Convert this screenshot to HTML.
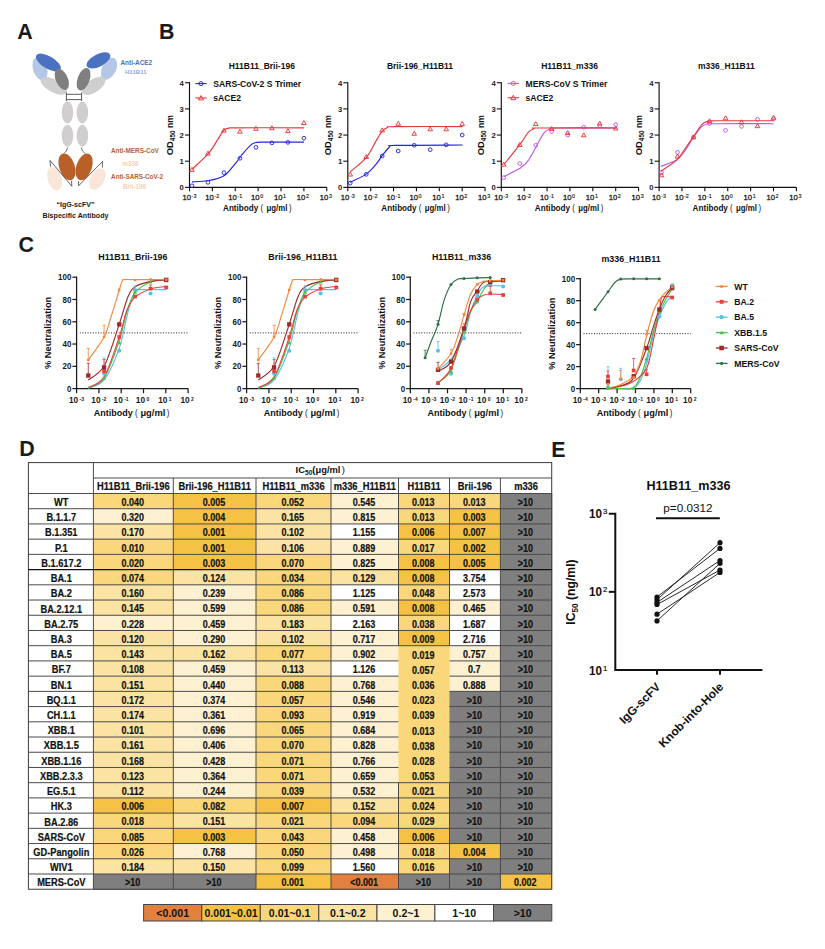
<!DOCTYPE html>
<html><head><meta charset="utf-8"><style>
html,body{margin:0;padding:0;background:#fff;width:825px;height:949px;overflow:hidden}
svg{display:block}
text{font-family:"Liberation Sans",sans-serif}
</style></head><body>
<svg width="825" height="949" viewBox="0 0 825 949">
<rect width="825" height="949" fill="#fff"/>
<text x="17.30" y="39.30" font-size="21.4" font-weight="bold" text-anchor="start" fill="#1a1a1a" >A</text>
<text x="159.00" y="39.30" font-size="21.4" font-weight="bold" text-anchor="start" fill="#1a1a1a" >B</text>
<text x="18.50" y="252.40" font-size="21.4" font-weight="bold" text-anchor="start" fill="#1a1a1a" >C</text>
<text x="19.20" y="456.40" font-size="21.4" font-weight="bold" text-anchor="start" fill="#1a1a1a" >D</text>
<text x="551.20" y="456.60" font-size="21.4" font-weight="bold" text-anchor="start" fill="#1a1a1a" >E</text>
<ellipse cx="40" cy="68.7" rx="7" ry="11.8" fill="#B4C7E7" transform="rotate(-18 40 68.7)"/>
<ellipse cx="48.4" cy="62.5" rx="14" ry="6.2" fill="#4A72C0" transform="rotate(31 48.4 62.5)"/>
<ellipse cx="109" cy="68.7" rx="7" ry="11.7" fill="#B4C7E7" transform="rotate(26 109 68.7)"/>
<ellipse cx="98.5" cy="60.4" rx="13" ry="6.2" fill="#4A72C0" transform="rotate(-27.5 98.5 60.4)"/>
<ellipse cx="53.8" cy="85.8" rx="14.5" ry="6.5" fill="#D0CECE" transform="rotate(28 53.8 85.8)"/>
<ellipse cx="93.8" cy="85.8" rx="13.5" ry="6.5" fill="#D0CECE" transform="rotate(-34 93.8 85.8)"/>
<ellipse cx="61.8" cy="79.3" rx="6" ry="11.3" fill="#7F7F7F" transform="rotate(-24 61.8 79.3)"/>
<ellipse cx="83.6" cy="79.3" rx="6" ry="11.7" fill="#7F7F7F" transform="rotate(20 83.6 79.3)"/>
<path d="M66.4 92.5 V101 M81.6 92.5 V101 M66.4 94.3 H81.6 M66.4 99.6 H81.6" stroke="#333" stroke-width="0.8" fill="none"/>
<ellipse cx="67.5" cy="112.5" rx="5.8" ry="10.9" fill="#D0CECE" transform="rotate(0 67.5 112.5)"/>
<ellipse cx="82.4" cy="112.5" rx="5.8" ry="10.9" fill="#D0CECE" transform="rotate(0 82.4 112.5)"/>
<ellipse cx="67.5" cy="135.8" rx="5.8" ry="11" fill="#D0CECE" transform="rotate(0 67.5 135.8)"/>
<ellipse cx="82.4" cy="135.8" rx="5.8" ry="11" fill="#D0CECE" transform="rotate(0 82.4 135.8)"/>
<path d="M67.6 147.5 Q67 151.5 63.8 153.6 M81.2 147.5 Q81.8 151.5 85.4 153.6" stroke="#333" stroke-width="0.7" fill="none"/>
<ellipse cx="54.6" cy="178.6" rx="7" ry="12" fill="#FAE6D8" transform="rotate(-17 54.6 178.6)"/>
<ellipse cx="97.3" cy="179" rx="7" ry="11.6" fill="#FAE6D8" transform="rotate(28 97.3 179)"/>
<ellipse cx="67" cy="166.8" rx="7.8" ry="13.9" fill="#B95F28" transform="rotate(-18.7 67 166.8)"/>
<ellipse cx="84.1" cy="166.8" rx="7.8" ry="13.9" fill="#B95F28" transform="rotate(18.7 84.1 166.8)"/>
<path d="M71.6 180.7 L71.8 186.2 L50 160.4 L50.6 166.7 M78.6 181.2 L78.6 185.8 L102.4 161.6 L102.4 167.6" stroke="#333" stroke-width="0.75" fill="none" stroke-linejoin="round"/>
<text x="136.30" y="64.80" font-size="6.4" font-weight="bold" text-anchor="middle" fill="#4A72C0" >Anti-ACE2</text>
<text x="135.80" y="74.30" font-size="6.1" font-weight="bold" text-anchor="middle" fill="#8DA8DA" >H11B11</text>
<text x="134.90" y="152.60" font-size="6.4" font-weight="bold" text-anchor="middle" fill="#B8622C" >Anti-MERS-CoV</text>
<text x="130.50" y="166.30" font-size="6.4" font-weight="bold" text-anchor="middle" fill="#F5CFB5" >m336</text>
<text x="137.00" y="178.50" font-size="6.3" font-weight="bold" text-anchor="middle" fill="#B8622C" >Anti-SARS-CoV-2</text>
<text x="134.50" y="189.00" font-size="6.3" font-weight="bold" text-anchor="middle" fill="#F5CFB5" >Brii-196</text>
<text x="75.50" y="207.00" font-size="7.1" font-weight="bold" text-anchor="middle" fill="#1a1a1a" >“IgG-scFV”</text>
<text x="75.50" y="217.60" font-size="7.1" font-weight="bold" text-anchor="middle" fill="#1a1a1a" >Bispecific Antibody</text>
<path d="M189.5 82.15 V187.35 H326.78" stroke="#111" stroke-width="1.15" fill="none"/>
<line x1="185.00" y1="187.35" x2="189.50" y2="187.35" stroke="#111" stroke-width="1.1" />
<text x="183.90" y="190.10" font-size="7.7" font-weight="bold" text-anchor="end" fill="#222" >0</text>
<line x1="185.00" y1="161.20" x2="189.50" y2="161.20" stroke="#111" stroke-width="1.1" />
<text x="183.90" y="163.95" font-size="7.7" font-weight="bold" text-anchor="end" fill="#222" >1</text>
<line x1="185.00" y1="135.05" x2="189.50" y2="135.05" stroke="#111" stroke-width="1.1" />
<text x="183.90" y="137.80" font-size="7.7" font-weight="bold" text-anchor="end" fill="#222" >2</text>
<line x1="185.00" y1="108.90" x2="189.50" y2="108.90" stroke="#111" stroke-width="1.1" />
<text x="183.90" y="111.65" font-size="7.7" font-weight="bold" text-anchor="end" fill="#222" >3</text>
<line x1="185.00" y1="82.75" x2="189.50" y2="82.75" stroke="#111" stroke-width="1.1" />
<text x="183.90" y="85.50" font-size="7.7" font-weight="bold" text-anchor="end" fill="#222" >4</text>
<line x1="189.50" y1="187.35" x2="189.50" y2="191.35" stroke="#111" stroke-width="1.1" />
<text x="191.00" y="200.30" font-size="7.7" font-weight="normal" stroke="#222" stroke-width="0.3" text-anchor="end" fill="#222">10</text>
<text x="191.60" y="197.80" font-size="5.4" font-weight="normal" stroke="#222" stroke-width="0.15" fill="#222">-3</text>
<line x1="212.38" y1="187.35" x2="212.38" y2="191.35" stroke="#111" stroke-width="1.1" />
<text x="213.88" y="200.30" font-size="7.7" font-weight="normal" stroke="#222" stroke-width="0.3" text-anchor="end" fill="#222">10</text>
<text x="214.48" y="197.80" font-size="5.4" font-weight="normal" stroke="#222" stroke-width="0.15" fill="#222">-2</text>
<line x1="235.26" y1="187.35" x2="235.26" y2="191.35" stroke="#111" stroke-width="1.1" />
<text x="236.76" y="200.30" font-size="7.7" font-weight="normal" stroke="#222" stroke-width="0.3" text-anchor="end" fill="#222">10</text>
<text x="237.36" y="197.80" font-size="5.4" font-weight="normal" stroke="#222" stroke-width="0.15" fill="#222">-1</text>
<line x1="258.14" y1="187.35" x2="258.14" y2="191.35" stroke="#111" stroke-width="1.1" />
<text x="259.64" y="200.30" font-size="7.7" font-weight="normal" stroke="#222" stroke-width="0.3" text-anchor="end" fill="#222">10</text>
<text x="260.24" y="197.80" font-size="5.4" font-weight="normal" stroke="#222" stroke-width="0.15" fill="#222">0</text>
<line x1="281.02" y1="187.35" x2="281.02" y2="191.35" stroke="#111" stroke-width="1.1" />
<text x="282.52" y="200.30" font-size="7.7" font-weight="normal" stroke="#222" stroke-width="0.3" text-anchor="end" fill="#222">10</text>
<text x="283.12" y="197.80" font-size="5.4" font-weight="normal" stroke="#222" stroke-width="0.15" fill="#222">1</text>
<line x1="303.90" y1="187.35" x2="303.90" y2="191.35" stroke="#111" stroke-width="1.1" />
<text x="305.40" y="200.30" font-size="7.7" font-weight="normal" stroke="#222" stroke-width="0.3" text-anchor="end" fill="#222">10</text>
<text x="306.00" y="197.80" font-size="5.4" font-weight="normal" stroke="#222" stroke-width="0.15" fill="#222">2</text>
<line x1="326.78" y1="187.35" x2="326.78" y2="191.35" stroke="#111" stroke-width="1.1" />
<text x="328.28" y="200.30" font-size="7.7" font-weight="normal" stroke="#222" stroke-width="0.3" text-anchor="end" fill="#222">10</text>
<text x="328.88" y="197.80" font-size="5.4" font-weight="normal" stroke="#222" stroke-width="0.15" fill="#222">3</text>
<text x="261.80" y="68.50" font-size="8.5" font-weight="bold" text-anchor="middle" fill="#111" >H11B11_Brii-196</text>
<text x="223.00" y="211.40" font-size="8.3" font-weight="bold" fill="#111" textLength="35.30" lengthAdjust="spacingAndGlyphs">Antibody</text>
<text x="260.50" y="210.80" font-size="8.134" font-weight="normal" fill="#111" textLength="2.60" lengthAdjust="spacingAndGlyphs">(</text>
<text x="266.50" y="211.40" font-size="8.3" font-weight="bold" fill="#111" textLength="20.80" lengthAdjust="spacingAndGlyphs">μg/ml</text>
<text x="288.90" y="210.80" font-size="8.134" font-weight="normal" fill="#111" textLength="2.60" lengthAdjust="spacingAndGlyphs">)</text>
<text transform="translate(172.50 135.2) rotate(-90)" font-size="9.4" font-weight="bold" text-anchor="middle" fill="#111">OD<tspan font-size="6.4" dy="2.1">450</tspan><tspan dy="-2.1" font-size="8.6"> nm</tspan></text>
<path d="M192.00 181.91 C194.75 181.68 203.15 181.59 208.49 180.55 C213.82 179.52 219.48 178.61 224.00 175.70 C228.53 172.79 232.73 166.49 235.64 163.10 C238.55 159.70 238.87 158.41 241.46 155.34 C244.04 152.27 248.57 146.84 251.16 144.67 C253.74 142.50 254.07 142.76 256.97 142.34 C259.88 141.92 260.76 142.18 268.61 142.15 C276.47 142.12 298.19 142.15 304.10 142.15" stroke="#2424EC" stroke-width="1.15" fill="none"/>
<circle cx="303.90" cy="138.19" r="1.85" fill="none" stroke="#2424EC" stroke-width="0.95"/>
<circle cx="287.91" cy="142.37" r="1.85" fill="none" stroke="#2424EC" stroke-width="0.95"/>
<circle cx="271.91" cy="142.89" r="1.85" fill="none" stroke="#2424EC" stroke-width="0.95"/>
<circle cx="255.92" cy="147.34" r="1.85" fill="none" stroke="#2424EC" stroke-width="0.95"/>
<circle cx="239.93" cy="158.32" r="1.85" fill="none" stroke="#2424EC" stroke-width="0.95"/>
<circle cx="223.93" cy="172.71" r="1.85" fill="none" stroke="#2424EC" stroke-width="0.95"/>
<circle cx="207.94" cy="182.38" r="1.85" fill="none" stroke="#2424EC" stroke-width="0.95"/>
<circle cx="191.95" cy="185.78" r="1.85" fill="none" stroke="#2424EC" stroke-width="0.95"/>
<path d="M192.00 169.30 C194.75 166.65 204.12 158.47 208.49 153.40 C212.85 148.32 215.60 142.73 218.18 138.85 C220.77 134.97 222.23 131.90 224.00 130.12 C225.78 128.35 226.59 128.57 228.85 128.18 C231.11 127.80 225.04 127.86 237.58 127.80 C250.12 127.73 293.02 127.80 304.10 127.80" stroke="#E8383A" stroke-width="1.15" fill="none"/>
<path d="M303.90 120.56 L306.21 124.52 L301.59 124.52 Z" fill="none" stroke="#E8383A" stroke-width="0.95"/>
<path d="M287.91 128.67 L290.22 132.63 L285.60 132.63 Z" fill="none" stroke="#E8383A" stroke-width="0.95"/>
<path d="M271.91 125.79 L274.22 129.75 L269.60 129.75 Z" fill="none" stroke="#E8383A" stroke-width="0.95"/>
<path d="M255.92 126.31 L258.23 130.27 L253.61 130.27 Z" fill="none" stroke="#E8383A" stroke-width="0.95"/>
<path d="M239.93 129.19 L242.24 133.15 L237.62 133.15 Z" fill="none" stroke="#E8383A" stroke-width="0.95"/>
<path d="M223.93 128.14 L226.24 132.10 L221.62 132.10 Z" fill="none" stroke="#E8383A" stroke-width="0.95"/>
<path d="M207.94 151.16 L210.25 155.11 L205.63 155.11 Z" fill="none" stroke="#E8383A" stroke-width="0.95"/>
<path d="M191.95 167.37 L194.26 171.33 L189.64 171.33 Z" fill="none" stroke="#E8383A" stroke-width="0.95"/>
<path d="M347.8 82.15 V187.35 H485.08" stroke="#111" stroke-width="1.15" fill="none"/>
<line x1="343.30" y1="187.35" x2="347.80" y2="187.35" stroke="#111" stroke-width="1.1" />
<text x="342.20" y="190.10" font-size="7.7" font-weight="bold" text-anchor="end" fill="#222" >0</text>
<line x1="343.30" y1="161.20" x2="347.80" y2="161.20" stroke="#111" stroke-width="1.1" />
<text x="342.20" y="163.95" font-size="7.7" font-weight="bold" text-anchor="end" fill="#222" >1</text>
<line x1="343.30" y1="135.05" x2="347.80" y2="135.05" stroke="#111" stroke-width="1.1" />
<text x="342.20" y="137.80" font-size="7.7" font-weight="bold" text-anchor="end" fill="#222" >2</text>
<line x1="343.30" y1="108.90" x2="347.80" y2="108.90" stroke="#111" stroke-width="1.1" />
<text x="342.20" y="111.65" font-size="7.7" font-weight="bold" text-anchor="end" fill="#222" >3</text>
<line x1="343.30" y1="82.75" x2="347.80" y2="82.75" stroke="#111" stroke-width="1.1" />
<text x="342.20" y="85.50" font-size="7.7" font-weight="bold" text-anchor="end" fill="#222" >4</text>
<line x1="347.80" y1="187.35" x2="347.80" y2="191.35" stroke="#111" stroke-width="1.1" />
<text x="349.30" y="200.30" font-size="7.7" font-weight="normal" stroke="#222" stroke-width="0.3" text-anchor="end" fill="#222">10</text>
<text x="349.90" y="197.80" font-size="5.4" font-weight="normal" stroke="#222" stroke-width="0.15" fill="#222">-3</text>
<line x1="370.68" y1="187.35" x2="370.68" y2="191.35" stroke="#111" stroke-width="1.1" />
<text x="372.18" y="200.30" font-size="7.7" font-weight="normal" stroke="#222" stroke-width="0.3" text-anchor="end" fill="#222">10</text>
<text x="372.78" y="197.80" font-size="5.4" font-weight="normal" stroke="#222" stroke-width="0.15" fill="#222">-2</text>
<line x1="393.56" y1="187.35" x2="393.56" y2="191.35" stroke="#111" stroke-width="1.1" />
<text x="395.06" y="200.30" font-size="7.7" font-weight="normal" stroke="#222" stroke-width="0.3" text-anchor="end" fill="#222">10</text>
<text x="395.66" y="197.80" font-size="5.4" font-weight="normal" stroke="#222" stroke-width="0.15" fill="#222">-1</text>
<line x1="416.44" y1="187.35" x2="416.44" y2="191.35" stroke="#111" stroke-width="1.1" />
<text x="417.94" y="200.30" font-size="7.7" font-weight="normal" stroke="#222" stroke-width="0.3" text-anchor="end" fill="#222">10</text>
<text x="418.54" y="197.80" font-size="5.4" font-weight="normal" stroke="#222" stroke-width="0.15" fill="#222">0</text>
<line x1="439.32" y1="187.35" x2="439.32" y2="191.35" stroke="#111" stroke-width="1.1" />
<text x="440.82" y="200.30" font-size="7.7" font-weight="normal" stroke="#222" stroke-width="0.3" text-anchor="end" fill="#222">10</text>
<text x="441.42" y="197.80" font-size="5.4" font-weight="normal" stroke="#222" stroke-width="0.15" fill="#222">1</text>
<line x1="462.20" y1="187.35" x2="462.20" y2="191.35" stroke="#111" stroke-width="1.1" />
<text x="463.70" y="200.30" font-size="7.7" font-weight="normal" stroke="#222" stroke-width="0.3" text-anchor="end" fill="#222">10</text>
<text x="464.30" y="197.80" font-size="5.4" font-weight="normal" stroke="#222" stroke-width="0.15" fill="#222">2</text>
<line x1="485.08" y1="187.35" x2="485.08" y2="191.35" stroke="#111" stroke-width="1.1" />
<text x="486.58" y="200.30" font-size="7.7" font-weight="normal" stroke="#222" stroke-width="0.3" text-anchor="end" fill="#222">10</text>
<text x="487.18" y="197.80" font-size="5.4" font-weight="normal" stroke="#222" stroke-width="0.15" fill="#222">3</text>
<text x="420.00" y="68.50" font-size="8.5" font-weight="bold" text-anchor="middle" fill="#111" >Brii-196_H11B11</text>
<text x="381.30" y="211.40" font-size="8.3" font-weight="bold" fill="#111" textLength="35.30" lengthAdjust="spacingAndGlyphs">Antibody</text>
<text x="418.80" y="210.80" font-size="8.134" font-weight="normal" fill="#111" textLength="2.60" lengthAdjust="spacingAndGlyphs">(</text>
<text x="424.80" y="211.40" font-size="8.3" font-weight="bold" fill="#111" textLength="20.80" lengthAdjust="spacingAndGlyphs">μg/ml</text>
<text x="447.20" y="210.80" font-size="8.134" font-weight="normal" fill="#111" textLength="2.60" lengthAdjust="spacingAndGlyphs">)</text>
<text transform="translate(330.80 135.2) rotate(-90)" font-size="9.4" font-weight="bold" text-anchor="middle" fill="#111">OD<tspan font-size="6.4" dy="2.1">450</tspan><tspan dy="-2.1" font-size="8.6"> nm</tspan></text>
<path d="M350.15 182.27 C352.83 180.92 361.95 177.10 366.25 174.13 C370.54 171.15 373.29 167.50 375.94 164.43 C378.59 161.36 379.89 158.61 382.15 155.70 C384.41 152.79 387.32 148.69 389.52 146.97 C391.72 145.26 383.15 145.75 395.34 145.42 C407.52 145.10 451.42 145.10 462.64 145.03" stroke="#2424EC" stroke-width="1.15" fill="none"/>
<circle cx="462.20" cy="135.05" r="1.85" fill="none" stroke="#2424EC" stroke-width="0.95"/>
<circle cx="446.21" cy="144.86" r="1.85" fill="none" stroke="#2424EC" stroke-width="0.95"/>
<circle cx="430.21" cy="149.69" r="1.85" fill="none" stroke="#2424EC" stroke-width="0.95"/>
<circle cx="414.22" cy="145.25" r="1.85" fill="none" stroke="#2424EC" stroke-width="0.95"/>
<circle cx="398.23" cy="151.00" r="1.85" fill="none" stroke="#2424EC" stroke-width="0.95"/>
<circle cx="382.23" cy="155.97" r="1.85" fill="none" stroke="#2424EC" stroke-width="0.95"/>
<circle cx="366.24" cy="174.35" r="1.85" fill="none" stroke="#2424EC" stroke-width="0.95"/>
<circle cx="350.25" cy="183.09" r="1.85" fill="none" stroke="#2424EC" stroke-width="0.95"/>
<path d="M350.15 171.80 C352.83 169.44 361.95 162.75 366.25 157.64 C370.54 152.53 373.29 145.52 375.94 141.16 C378.59 136.79 380.21 133.72 382.15 131.46 C384.09 129.20 385.38 128.39 387.58 127.58 C389.78 126.77 382.83 126.77 395.34 126.61 C407.85 126.45 451.42 126.61 462.64 126.61" stroke="#E8383A" stroke-width="1.15" fill="none"/>
<path d="M462.20 121.61 L464.51 125.57 L459.89 125.57 Z" fill="none" stroke="#E8383A" stroke-width="0.95"/>
<path d="M446.21 126.84 L448.52 130.80 L443.90 130.80 Z" fill="none" stroke="#E8383A" stroke-width="0.95"/>
<path d="M430.21 126.84 L432.52 130.80 L427.90 130.80 Z" fill="none" stroke="#E8383A" stroke-width="0.95"/>
<path d="M414.22 131.28 L416.53 135.24 L411.91 135.24 Z" fill="none" stroke="#E8383A" stroke-width="0.95"/>
<path d="M398.23 121.34 L400.54 125.30 L395.92 125.30 Z" fill="none" stroke="#E8383A" stroke-width="0.95"/>
<path d="M382.23 127.88 L384.54 131.84 L379.92 131.84 Z" fill="none" stroke="#E8383A" stroke-width="0.95"/>
<path d="M366.24 154.55 L368.55 158.51 L363.93 158.51 Z" fill="none" stroke="#E8383A" stroke-width="0.95"/>
<path d="M350.25 172.08 L352.56 176.03 L347.94 176.03 Z" fill="none" stroke="#E8383A" stroke-width="0.95"/>
<path d="M501.3 82.15 V187.35 H638.58" stroke="#111" stroke-width="1.15" fill="none"/>
<line x1="496.80" y1="187.35" x2="501.30" y2="187.35" stroke="#111" stroke-width="1.1" />
<text x="495.70" y="190.10" font-size="7.7" font-weight="bold" text-anchor="end" fill="#222" >0</text>
<line x1="496.80" y1="161.20" x2="501.30" y2="161.20" stroke="#111" stroke-width="1.1" />
<text x="495.70" y="163.95" font-size="7.7" font-weight="bold" text-anchor="end" fill="#222" >1</text>
<line x1="496.80" y1="135.05" x2="501.30" y2="135.05" stroke="#111" stroke-width="1.1" />
<text x="495.70" y="137.80" font-size="7.7" font-weight="bold" text-anchor="end" fill="#222" >2</text>
<line x1="496.80" y1="108.90" x2="501.30" y2="108.90" stroke="#111" stroke-width="1.1" />
<text x="495.70" y="111.65" font-size="7.7" font-weight="bold" text-anchor="end" fill="#222" >3</text>
<line x1="496.80" y1="82.75" x2="501.30" y2="82.75" stroke="#111" stroke-width="1.1" />
<text x="495.70" y="85.50" font-size="7.7" font-weight="bold" text-anchor="end" fill="#222" >4</text>
<line x1="501.30" y1="187.35" x2="501.30" y2="191.35" stroke="#111" stroke-width="1.1" />
<text x="502.80" y="200.30" font-size="7.7" font-weight="normal" stroke="#222" stroke-width="0.3" text-anchor="end" fill="#222">10</text>
<text x="503.40" y="197.80" font-size="5.4" font-weight="normal" stroke="#222" stroke-width="0.15" fill="#222">-3</text>
<line x1="524.18" y1="187.35" x2="524.18" y2="191.35" stroke="#111" stroke-width="1.1" />
<text x="525.68" y="200.30" font-size="7.7" font-weight="normal" stroke="#222" stroke-width="0.3" text-anchor="end" fill="#222">10</text>
<text x="526.28" y="197.80" font-size="5.4" font-weight="normal" stroke="#222" stroke-width="0.15" fill="#222">-2</text>
<line x1="547.06" y1="187.35" x2="547.06" y2="191.35" stroke="#111" stroke-width="1.1" />
<text x="548.56" y="200.30" font-size="7.7" font-weight="normal" stroke="#222" stroke-width="0.3" text-anchor="end" fill="#222">10</text>
<text x="549.16" y="197.80" font-size="5.4" font-weight="normal" stroke="#222" stroke-width="0.15" fill="#222">-1</text>
<line x1="569.94" y1="187.35" x2="569.94" y2="191.35" stroke="#111" stroke-width="1.1" />
<text x="571.44" y="200.30" font-size="7.7" font-weight="normal" stroke="#222" stroke-width="0.3" text-anchor="end" fill="#222">10</text>
<text x="572.04" y="197.80" font-size="5.4" font-weight="normal" stroke="#222" stroke-width="0.15" fill="#222">0</text>
<line x1="592.82" y1="187.35" x2="592.82" y2="191.35" stroke="#111" stroke-width="1.1" />
<text x="594.32" y="200.30" font-size="7.7" font-weight="normal" stroke="#222" stroke-width="0.3" text-anchor="end" fill="#222">10</text>
<text x="594.92" y="197.80" font-size="5.4" font-weight="normal" stroke="#222" stroke-width="0.15" fill="#222">1</text>
<line x1="615.70" y1="187.35" x2="615.70" y2="191.35" stroke="#111" stroke-width="1.1" />
<text x="617.20" y="200.30" font-size="7.7" font-weight="normal" stroke="#222" stroke-width="0.3" text-anchor="end" fill="#222">10</text>
<text x="617.80" y="197.80" font-size="5.4" font-weight="normal" stroke="#222" stroke-width="0.15" fill="#222">2</text>
<line x1="638.58" y1="187.35" x2="638.58" y2="191.35" stroke="#111" stroke-width="1.1" />
<text x="640.08" y="200.30" font-size="7.7" font-weight="normal" stroke="#222" stroke-width="0.3" text-anchor="end" fill="#222">10</text>
<text x="640.68" y="197.80" font-size="5.4" font-weight="normal" stroke="#222" stroke-width="0.15" fill="#222">3</text>
<text x="569.50" y="68.50" font-size="8.5" font-weight="bold" text-anchor="middle" fill="#111" >H11B11_m336</text>
<text x="534.80" y="211.40" font-size="8.3" font-weight="bold" fill="#111" textLength="35.30" lengthAdjust="spacingAndGlyphs">Antibody</text>
<text x="572.30" y="210.80" font-size="8.134" font-weight="normal" fill="#111" textLength="2.60" lengthAdjust="spacingAndGlyphs">(</text>
<text x="578.30" y="211.40" font-size="8.3" font-weight="bold" fill="#111" textLength="20.80" lengthAdjust="spacingAndGlyphs">μg/ml</text>
<text x="600.70" y="210.80" font-size="8.134" font-weight="normal" fill="#111" textLength="2.60" lengthAdjust="spacingAndGlyphs">)</text>
<text transform="translate(484.30 135.2) rotate(-90)" font-size="9.4" font-weight="bold" text-anchor="middle" fill="#111">OD<tspan font-size="6.4" dy="2.1">450</tspan><tspan dy="-2.1" font-size="8.6"> nm</tspan></text>
<path d="M503.94 176.45 C506.62 175.10 516.00 170.96 520.04 168.31 C524.08 165.66 525.53 164.11 528.18 160.55 C530.84 157.00 533.36 151.50 535.94 146.97 C538.53 142.45 541.44 136.37 543.70 133.40 C545.96 130.42 547.26 130.04 549.52 129.13 C551.78 128.23 546.12 128.16 557.28 127.97 C568.43 127.77 606.57 127.97 616.43 127.97" stroke="#B85AE8" stroke-width="1.15" fill="none"/>
<circle cx="615.70" cy="124.59" r="1.85" fill="none" stroke="#B85AE8" stroke-width="0.95"/>
<circle cx="599.71" cy="125.90" r="1.85" fill="none" stroke="#B85AE8" stroke-width="0.95"/>
<circle cx="583.71" cy="127.21" r="1.85" fill="none" stroke="#B85AE8" stroke-width="0.95"/>
<circle cx="567.72" cy="135.05" r="1.85" fill="none" stroke="#B85AE8" stroke-width="0.95"/>
<circle cx="551.73" cy="131.39" r="1.85" fill="none" stroke="#B85AE8" stroke-width="0.95"/>
<circle cx="535.73" cy="145.25" r="1.85" fill="none" stroke="#B85AE8" stroke-width="0.95"/>
<circle cx="519.74" cy="163.55" r="1.85" fill="none" stroke="#B85AE8" stroke-width="0.95"/>
<circle cx="503.75" cy="177.67" r="1.85" fill="none" stroke="#B85AE8" stroke-width="0.95"/>
<path d="M503.94 164.43 C506.62 161.10 516.00 149.79 520.04 144.45 C524.08 139.12 525.86 135.08 528.18 132.43 C530.51 129.78 532.06 129.29 534.00 128.55 C535.94 127.81 526.08 128.06 539.82 127.97 C553.56 127.87 603.66 127.97 616.43 127.97" stroke="#E8383A" stroke-width="1.15" fill="none"/>
<path d="M615.70 126.05 L618.01 130.01 L613.39 130.01 Z" fill="none" stroke="#E8383A" stroke-width="0.95"/>
<path d="M599.71 121.08 L602.02 125.04 L597.40 125.04 Z" fill="none" stroke="#E8383A" stroke-width="0.95"/>
<path d="M583.71 132.85 L586.02 136.81 L581.40 136.81 Z" fill="none" stroke="#E8383A" stroke-width="0.95"/>
<path d="M567.72 130.50 L570.03 134.46 L565.41 134.46 Z" fill="none" stroke="#E8383A" stroke-width="0.95"/>
<path d="M551.73 126.57 L554.04 130.53 L549.42 130.53 Z" fill="none" stroke="#E8383A" stroke-width="0.95"/>
<path d="M535.73 121.61 L538.04 125.57 L533.42 125.57 Z" fill="none" stroke="#E8383A" stroke-width="0.95"/>
<path d="M519.74 142.53 L522.05 146.49 L517.43 146.49 Z" fill="none" stroke="#E8383A" stroke-width="0.95"/>
<path d="M503.75 162.14 L506.06 166.10 L501.44 166.10 Z" fill="none" stroke="#E8383A" stroke-width="0.95"/>
<path d="M659.1 82.15 V187.35 H796.38" stroke="#111" stroke-width="1.15" fill="none"/>
<line x1="654.60" y1="187.35" x2="659.10" y2="187.35" stroke="#111" stroke-width="1.1" />
<text x="653.50" y="190.10" font-size="7.7" font-weight="bold" text-anchor="end" fill="#222" >0</text>
<line x1="654.60" y1="161.20" x2="659.10" y2="161.20" stroke="#111" stroke-width="1.1" />
<text x="653.50" y="163.95" font-size="7.7" font-weight="bold" text-anchor="end" fill="#222" >1</text>
<line x1="654.60" y1="135.05" x2="659.10" y2="135.05" stroke="#111" stroke-width="1.1" />
<text x="653.50" y="137.80" font-size="7.7" font-weight="bold" text-anchor="end" fill="#222" >2</text>
<line x1="654.60" y1="108.90" x2="659.10" y2="108.90" stroke="#111" stroke-width="1.1" />
<text x="653.50" y="111.65" font-size="7.7" font-weight="bold" text-anchor="end" fill="#222" >3</text>
<line x1="654.60" y1="82.75" x2="659.10" y2="82.75" stroke="#111" stroke-width="1.1" />
<text x="653.50" y="85.50" font-size="7.7" font-weight="bold" text-anchor="end" fill="#222" >4</text>
<line x1="659.10" y1="187.35" x2="659.10" y2="191.35" stroke="#111" stroke-width="1.1" />
<text x="660.60" y="200.30" font-size="7.7" font-weight="normal" stroke="#222" stroke-width="0.3" text-anchor="end" fill="#222">10</text>
<text x="661.20" y="197.80" font-size="5.4" font-weight="normal" stroke="#222" stroke-width="0.15" fill="#222">-3</text>
<line x1="681.98" y1="187.35" x2="681.98" y2="191.35" stroke="#111" stroke-width="1.1" />
<text x="683.48" y="200.30" font-size="7.7" font-weight="normal" stroke="#222" stroke-width="0.3" text-anchor="end" fill="#222">10</text>
<text x="684.08" y="197.80" font-size="5.4" font-weight="normal" stroke="#222" stroke-width="0.15" fill="#222">-2</text>
<line x1="704.86" y1="187.35" x2="704.86" y2="191.35" stroke="#111" stroke-width="1.1" />
<text x="706.36" y="200.30" font-size="7.7" font-weight="normal" stroke="#222" stroke-width="0.3" text-anchor="end" fill="#222">10</text>
<text x="706.96" y="197.80" font-size="5.4" font-weight="normal" stroke="#222" stroke-width="0.15" fill="#222">-1</text>
<line x1="727.74" y1="187.35" x2="727.74" y2="191.35" stroke="#111" stroke-width="1.1" />
<text x="729.24" y="200.30" font-size="7.7" font-weight="normal" stroke="#222" stroke-width="0.3" text-anchor="end" fill="#222">10</text>
<text x="729.84" y="197.80" font-size="5.4" font-weight="normal" stroke="#222" stroke-width="0.15" fill="#222">0</text>
<line x1="750.62" y1="187.35" x2="750.62" y2="191.35" stroke="#111" stroke-width="1.1" />
<text x="752.12" y="200.30" font-size="7.7" font-weight="normal" stroke="#222" stroke-width="0.3" text-anchor="end" fill="#222">10</text>
<text x="752.72" y="197.80" font-size="5.4" font-weight="normal" stroke="#222" stroke-width="0.15" fill="#222">1</text>
<line x1="773.50" y1="187.35" x2="773.50" y2="191.35" stroke="#111" stroke-width="1.1" />
<text x="775.00" y="200.30" font-size="7.7" font-weight="normal" stroke="#222" stroke-width="0.3" text-anchor="end" fill="#222">10</text>
<text x="775.60" y="197.80" font-size="5.4" font-weight="normal" stroke="#222" stroke-width="0.15" fill="#222">2</text>
<line x1="796.38" y1="187.35" x2="796.38" y2="191.35" stroke="#111" stroke-width="1.1" />
<text x="797.88" y="200.30" font-size="7.7" font-weight="normal" stroke="#222" stroke-width="0.3" text-anchor="end" fill="#222">10</text>
<text x="798.48" y="197.80" font-size="5.4" font-weight="normal" stroke="#222" stroke-width="0.15" fill="#222">3</text>
<text x="726.40" y="68.50" font-size="8.5" font-weight="bold" text-anchor="middle" fill="#111" >m336_H11B11</text>
<text x="692.60" y="211.40" font-size="8.3" font-weight="bold" fill="#111" textLength="35.30" lengthAdjust="spacingAndGlyphs">Antibody</text>
<text x="730.10" y="210.80" font-size="8.134" font-weight="normal" fill="#111" textLength="2.60" lengthAdjust="spacingAndGlyphs">(</text>
<text x="736.10" y="211.40" font-size="8.3" font-weight="bold" fill="#111" textLength="20.80" lengthAdjust="spacingAndGlyphs">μg/ml</text>
<text x="758.50" y="210.80" font-size="8.134" font-weight="normal" fill="#111" textLength="2.60" lengthAdjust="spacingAndGlyphs">)</text>
<text transform="translate(642.10 135.2) rotate(-90)" font-size="9.4" font-weight="bold" text-anchor="middle" fill="#111">OD<tspan font-size="6.4" dy="2.1">450</tspan><tspan dy="-2.1" font-size="8.6"> nm</tspan></text>
<path d="M661.03 166.37 C663.71 165.24 672.93 162.49 677.13 159.58 C681.33 156.67 683.53 152.63 686.25 148.91 C688.96 145.20 690.84 140.99 693.42 137.28 C696.01 133.56 699.40 128.81 701.76 126.61 C704.12 124.41 705.32 124.57 707.58 124.09 C709.84 123.60 704.35 123.77 715.34 123.70 C726.33 123.64 763.82 123.70 773.52 123.70" stroke="#B85AE8" stroke-width="1.15" fill="none"/>
<circle cx="773.50" cy="119.10" r="1.85" fill="none" stroke="#B85AE8" stroke-width="0.95"/>
<circle cx="757.51" cy="119.36" r="1.85" fill="none" stroke="#B85AE8" stroke-width="0.95"/>
<circle cx="741.51" cy="126.42" r="1.85" fill="none" stroke="#B85AE8" stroke-width="0.95"/>
<circle cx="725.52" cy="130.34" r="1.85" fill="none" stroke="#B85AE8" stroke-width="0.95"/>
<circle cx="709.53" cy="123.54" r="1.85" fill="none" stroke="#B85AE8" stroke-width="0.95"/>
<circle cx="693.53" cy="137.14" r="1.85" fill="none" stroke="#B85AE8" stroke-width="0.95"/>
<circle cx="677.54" cy="152.31" r="1.85" fill="none" stroke="#B85AE8" stroke-width="0.95"/>
<circle cx="661.55" cy="172.44" r="1.85" fill="none" stroke="#B85AE8" stroke-width="0.95"/>
<path d="M661.03 171.22 C663.71 169.28 672.93 163.62 677.13 159.58 C681.33 155.54 683.53 150.76 686.25 146.97 C688.96 143.19 690.84 140.61 693.42 136.89 C696.01 133.17 699.40 127.26 701.76 124.67 C704.12 122.08 705.32 122.02 707.58 121.37 C709.84 120.73 704.35 120.89 715.34 120.79 C726.33 120.69 763.82 120.79 773.52 120.79" stroke="#E8383A" stroke-width="1.15" fill="none"/>
<path d="M773.50 115.33 L775.81 119.29 L771.19 119.29 Z" fill="none" stroke="#E8383A" stroke-width="0.95"/>
<path d="M757.51 123.70 L759.82 127.66 L755.20 127.66 Z" fill="none" stroke="#E8383A" stroke-width="0.95"/>
<path d="M741.51 119.77 L743.82 123.73 L739.20 123.73 Z" fill="none" stroke="#E8383A" stroke-width="0.95"/>
<path d="M725.52 115.85 L727.83 119.81 L723.21 119.81 Z" fill="none" stroke="#E8383A" stroke-width="0.95"/>
<path d="M709.53 118.73 L711.84 122.69 L707.22 122.69 Z" fill="none" stroke="#E8383A" stroke-width="0.95"/>
<path d="M693.53 134.94 L695.84 138.90 L691.22 138.90 Z" fill="none" stroke="#E8383A" stroke-width="0.95"/>
<path d="M677.54 154.03 L679.85 157.99 L675.23 157.99 Z" fill="none" stroke="#E8383A" stroke-width="0.95"/>
<path d="M661.55 172.86 L663.86 176.82 L659.24 176.82 Z" fill="none" stroke="#E8383A" stroke-width="0.95"/>
<line x1="195.30" y1="83.60" x2="206.70" y2="83.60" stroke="#2424EC" stroke-width="1.1" />
<circle cx="201.00" cy="83.60" r="2.04" fill="none" stroke="#2424EC" stroke-width="0.95"/>
<text x="213.30" y="86.70" font-size="8.6" font-weight="bold" text-anchor="start" fill="#111" >SARS-CoV-2 S Trimer</text>
<line x1="195.30" y1="98.00" x2="206.70" y2="98.00" stroke="#E8383A" stroke-width="1.1" />
<path d="M201.00 95.58 L203.54 99.94 L198.46 99.94 Z" fill="none" stroke="#E8383A" stroke-width="0.95"/>
<text x="213.30" y="101.10" font-size="8.6" font-weight="bold" text-anchor="start" fill="#111" >sACE2</text>
<line x1="507.60" y1="83.40" x2="519.00" y2="83.40" stroke="#B85AE8" stroke-width="1.1" />
<circle cx="513.30" cy="83.40" r="2.04" fill="none" stroke="#B85AE8" stroke-width="0.95"/>
<text x="525.60" y="86.50" font-size="8.6" font-weight="bold" text-anchor="start" fill="#111" >MERS-CoV S Trimer</text>
<line x1="507.60" y1="97.70" x2="519.00" y2="97.70" stroke="#E8383A" stroke-width="1.1" />
<path d="M513.30 95.28 L515.84 99.64 L510.76 99.64 Z" fill="none" stroke="#E8383A" stroke-width="0.95"/>
<text x="525.60" y="100.80" font-size="8.6" font-weight="bold" text-anchor="start" fill="#111" >sACE2</text>
<path d="M76.6 276.60 V388.60 H188.10" stroke="#1a1a1a" stroke-width="1.25" fill="none"/>
<line x1="72.40" y1="388.60" x2="76.60" y2="388.60" stroke="#1a1a1a" stroke-width="1.25" />
<text transform="translate(71.40 391.70) scale(0.92 1)" font-size="8.7" font-weight="bold" text-anchor="end" fill="#1a1a1a">0</text>
<line x1="72.40" y1="366.32" x2="76.60" y2="366.32" stroke="#1a1a1a" stroke-width="1.25" />
<text transform="translate(71.40 369.42) scale(0.92 1)" font-size="8.7" font-weight="bold" text-anchor="end" fill="#1a1a1a">20</text>
<line x1="72.40" y1="344.04" x2="76.60" y2="344.04" stroke="#1a1a1a" stroke-width="1.25" />
<text transform="translate(71.40 347.14) scale(0.92 1)" font-size="8.7" font-weight="bold" text-anchor="end" fill="#1a1a1a">40</text>
<line x1="72.40" y1="321.76" x2="76.60" y2="321.76" stroke="#1a1a1a" stroke-width="1.25" />
<text transform="translate(71.40 324.86) scale(0.92 1)" font-size="8.7" font-weight="bold" text-anchor="end" fill="#1a1a1a">60</text>
<line x1="72.40" y1="299.48" x2="76.60" y2="299.48" stroke="#1a1a1a" stroke-width="1.25" />
<text transform="translate(71.40 302.58) scale(0.92 1)" font-size="8.7" font-weight="bold" text-anchor="end" fill="#1a1a1a">80</text>
<line x1="72.40" y1="277.20" x2="76.60" y2="277.20" stroke="#1a1a1a" stroke-width="1.25" />
<text transform="translate(71.40 280.30) scale(0.92 1)" font-size="8.7" font-weight="bold" text-anchor="end" fill="#1a1a1a">100</text>
<line x1="76.60" y1="388.60" x2="76.60" y2="393.20" stroke="#1a1a1a" stroke-width="1.25" />
<text x="78.20" y="403.00" font-size="8.3" font-weight="bold" text-anchor="end" fill="#1a1a1a">10</text>
<text x="79.60" y="400.80" font-size="5.0" font-weight="bold" fill="#1a1a1a">-3</text>
<line x1="98.90" y1="388.60" x2="98.90" y2="393.20" stroke="#1a1a1a" stroke-width="1.25" />
<text x="100.50" y="403.00" font-size="8.3" font-weight="bold" text-anchor="end" fill="#1a1a1a">10</text>
<text x="101.90" y="400.80" font-size="5.0" font-weight="bold" fill="#1a1a1a">-2</text>
<line x1="121.20" y1="388.60" x2="121.20" y2="393.20" stroke="#1a1a1a" stroke-width="1.25" />
<text x="122.80" y="403.00" font-size="8.3" font-weight="bold" text-anchor="end" fill="#1a1a1a">10</text>
<text x="124.20" y="400.80" font-size="5.0" font-weight="bold" fill="#1a1a1a">-1</text>
<line x1="143.50" y1="388.60" x2="143.50" y2="393.20" stroke="#1a1a1a" stroke-width="1.25" />
<text x="145.10" y="403.00" font-size="8.3" font-weight="bold" text-anchor="end" fill="#1a1a1a">10</text>
<text x="146.50" y="400.80" font-size="5.0" font-weight="bold" fill="#1a1a1a">0</text>
<line x1="165.80" y1="388.60" x2="165.80" y2="393.20" stroke="#1a1a1a" stroke-width="1.25" />
<text x="167.40" y="403.00" font-size="8.3" font-weight="bold" text-anchor="end" fill="#1a1a1a">10</text>
<text x="168.80" y="400.80" font-size="5.0" font-weight="bold" fill="#1a1a1a">1</text>
<line x1="188.10" y1="388.60" x2="188.10" y2="393.20" stroke="#1a1a1a" stroke-width="1.25" />
<text x="189.70" y="403.00" font-size="8.3" font-weight="bold" text-anchor="end" fill="#1a1a1a">10</text>
<text x="191.10" y="400.80" font-size="5.0" font-weight="bold" fill="#1a1a1a">2</text>
<line x1="79.80" y1="332.90" x2="188.10" y2="332.90" stroke="#222" stroke-width="1" stroke-dasharray="1 1.6"/>
<text x="132.90" y="259.90" font-size="8.9" font-weight="bold" text-anchor="middle" fill="#111" >H11B11_Brii-196</text>
<text x="93.65" y="416.40" font-size="8.9" font-weight="bold" fill="#111" textLength="39.00" lengthAdjust="spacingAndGlyphs">Antibody</text>
<text x="134.95" y="415.80" font-size="8.722" font-weight="normal" fill="#111" textLength="2.60" lengthAdjust="spacingAndGlyphs">(</text>
<text x="140.45" y="416.40" font-size="8.9" font-weight="bold" fill="#111" textLength="24.80" lengthAdjust="spacingAndGlyphs">μg/ml</text>
<text x="166.65" y="415.80" font-size="8.722" font-weight="normal" fill="#111" textLength="2.60" lengthAdjust="spacingAndGlyphs">)</text>
<text transform="translate(51.10 332.90) rotate(-90)" font-size="9.3" font-weight="bold" text-anchor="middle" fill="#111">% Neutralization</text>
<path d="M88.27 388.20 C90.91 386.84 98.91 386.62 104.08 379.99 C109.24 373.35 115.24 359.76 119.25 348.38 C123.25 337.00 125.46 321.31 128.10 311.72 C130.73 302.13 133.15 294.55 135.05 290.86 C136.95 287.17 134.27 289.81 139.48 289.60 C144.68 289.38 161.81 289.60 166.28 289.60" stroke="#5CBDE9" stroke-width="1.15" fill="none"/>
<path d="M88.27 388.20 C90.91 386.52 98.91 385.99 104.08 378.09 C109.24 370.19 115.46 351.86 119.25 340.80 C123.04 329.73 124.20 319.73 126.83 311.72 C129.47 303.71 131.09 297.71 135.05 292.76 C139.01 287.80 145.40 284.12 150.60 282.01 C155.80 279.90 163.66 280.43 166.28 280.11" stroke="#48C248" stroke-width="1.15" fill="none"/>
<path d="M88.27 387.57 C90.91 385.78 98.91 385.25 104.08 376.83 C109.24 368.40 115.46 348.07 119.25 337.00 C123.04 325.94 124.20 317.09 126.83 310.46 C129.47 303.82 131.09 300.76 135.05 297.18 C139.01 293.60 145.40 290.75 150.60 288.96 C155.80 287.17 163.66 286.86 166.28 286.43" stroke="#E8403C" stroke-width="1.15" fill="none"/>
<path d="M88.27 379.99 C90.91 377.67 99.13 374.72 104.08 366.08 C109.03 357.44 113.98 339.74 117.98 328.15 C121.99 316.57 125.15 303.50 128.10 296.55 C131.05 289.60 131.89 288.96 135.68 286.43 C139.48 283.91 145.75 282.47 150.85 281.38 C155.95 280.28 163.71 280.11 166.28 279.86" stroke="#9C2A2C" stroke-width="1.15" fill="none"/>
<path d="M88.27 360.01 C90.91 356.18 100.18 344.53 104.08 337.00 C107.98 329.48 109.13 322.72 111.66 314.88 C114.19 307.04 117.52 295.56 119.25 289.97 C120.98 284.39 121.23 283.11 122.03 281.38 C122.83 279.65 121.88 279.90 124.05 279.61 C126.22 279.31 128.01 279.61 135.05 279.61 C142.09 279.61 161.07 279.61 166.28 279.61" stroke="#F08A3C" stroke-width="1.15" fill="none"/>
<line x1="104.08" y1="373.67" x2="104.08" y2="357.86" stroke="#5CBDE9" stroke-width="0.8" />
<line x1="102.58" y1="357.86" x2="105.58" y2="357.86" stroke="#5CBDE9" stroke-width="0.8" />
<circle cx="104.08" cy="373.67" r="2.00" fill="#5CBDE9"/>
<circle cx="119.25" cy="350.66" r="2.00" fill="#5CBDE9"/>
<line x1="135.05" y1="290.23" x2="135.05" y2="285.80" stroke="#5CBDE9" stroke-width="0.8" />
<line x1="133.55" y1="285.80" x2="136.55" y2="285.80" stroke="#5CBDE9" stroke-width="0.8" />
<circle cx="135.05" cy="290.23" r="2.00" fill="#5CBDE9"/>
<circle cx="150.60" cy="293.39" r="2.00" fill="#5CBDE9"/>
<path d="M104.08 376.00 L106.17 379.61 L101.99 379.61 Z" fill="#48C248"/>
<path d="M119.25 340.60 L121.34 344.21 L117.16 344.21 Z" fill="#48C248"/>
<path d="M135.05 290.03 L137.14 293.64 L132.96 293.64 Z" fill="#48C248"/>
<path d="M150.60 279.92 L152.69 283.53 L148.51 283.53 Z" fill="#48C248"/>
<path d="M166.28 278.66 L168.37 282.27 L164.19 282.27 Z" fill="#48C248"/>
<line x1="104.08" y1="371.14" x2="104.08" y2="359.51" stroke="#E8403C" stroke-width="0.8" />
<line x1="102.58" y1="359.51" x2="105.58" y2="359.51" stroke="#E8403C" stroke-width="0.8" />
<rect x="102.23" y="369.29" width="3.70" height="3.70" fill="#E8403C"/>
<rect x="117.40" y="335.15" width="3.70" height="3.70" fill="#E8403C"/>
<rect x="133.20" y="294.70" width="3.70" height="3.70" fill="#E8403C"/>
<line x1="150.60" y1="288.71" x2="150.60" y2="284.92" stroke="#E8403C" stroke-width="0.8" />
<line x1="149.10" y1="284.92" x2="152.10" y2="284.92" stroke="#E8403C" stroke-width="0.8" />
<rect x="148.75" y="286.86" width="3.70" height="3.70" fill="#E8403C"/>
<rect x="164.43" y="285.60" width="3.70" height="3.70" fill="#E8403C"/>
<line x1="88.27" y1="375.56" x2="88.27" y2="363.30" stroke="#9C2A2C" stroke-width="0.8" />
<line x1="86.77" y1="363.30" x2="89.77" y2="363.30" stroke="#9C2A2C" stroke-width="0.8" />
<rect x="86.12" y="373.41" width="4.30" height="4.30" fill="#9C2A2C"/>
<rect x="101.93" y="365.20" width="4.30" height="4.30" fill="#9C2A2C"/>
<rect x="117.10" y="322.21" width="4.30" height="4.30" fill="#9C2A2C"/>
<rect x="164.13" y="277.71" width="4.30" height="4.30" fill="#9C2A2C"/>
<line x1="88.27" y1="360.01" x2="88.27" y2="348.38" stroke="#F08A3C" stroke-width="0.8" />
<line x1="86.77" y1="348.38" x2="89.77" y2="348.38" stroke="#F08A3C" stroke-width="0.8" />
<circle cx="88.27" cy="360.01" r="1.45" fill="#F08A3C"/>
<line x1="104.08" y1="337.00" x2="104.08" y2="325.25" stroke="#F08A3C" stroke-width="0.8" />
<line x1="102.58" y1="325.25" x2="105.58" y2="325.25" stroke="#F08A3C" stroke-width="0.8" />
<circle cx="104.08" cy="337.00" r="1.45" fill="#F08A3C"/>
<circle cx="119.25" cy="289.97" r="1.45" fill="#F08A3C"/>
<circle cx="135.05" cy="280.11" r="1.45" fill="#F08A3C"/>
<circle cx="150.60" cy="279.48" r="1.45" fill="#F08A3C"/>
<circle cx="166.28" cy="279.86" r="1.45" fill="#F08A3C"/>
<path d="M246.6 276.60 V388.60 H358.10" stroke="#1a1a1a" stroke-width="1.25" fill="none"/>
<line x1="242.40" y1="388.60" x2="246.60" y2="388.60" stroke="#1a1a1a" stroke-width="1.25" />
<text transform="translate(241.40 391.70) scale(0.92 1)" font-size="8.7" font-weight="bold" text-anchor="end" fill="#1a1a1a">0</text>
<line x1="242.40" y1="366.32" x2="246.60" y2="366.32" stroke="#1a1a1a" stroke-width="1.25" />
<text transform="translate(241.40 369.42) scale(0.92 1)" font-size="8.7" font-weight="bold" text-anchor="end" fill="#1a1a1a">20</text>
<line x1="242.40" y1="344.04" x2="246.60" y2="344.04" stroke="#1a1a1a" stroke-width="1.25" />
<text transform="translate(241.40 347.14) scale(0.92 1)" font-size="8.7" font-weight="bold" text-anchor="end" fill="#1a1a1a">40</text>
<line x1="242.40" y1="321.76" x2="246.60" y2="321.76" stroke="#1a1a1a" stroke-width="1.25" />
<text transform="translate(241.40 324.86) scale(0.92 1)" font-size="8.7" font-weight="bold" text-anchor="end" fill="#1a1a1a">60</text>
<line x1="242.40" y1="299.48" x2="246.60" y2="299.48" stroke="#1a1a1a" stroke-width="1.25" />
<text transform="translate(241.40 302.58) scale(0.92 1)" font-size="8.7" font-weight="bold" text-anchor="end" fill="#1a1a1a">80</text>
<line x1="242.40" y1="277.20" x2="246.60" y2="277.20" stroke="#1a1a1a" stroke-width="1.25" />
<text transform="translate(241.40 280.30) scale(0.92 1)" font-size="8.7" font-weight="bold" text-anchor="end" fill="#1a1a1a">100</text>
<line x1="246.60" y1="388.60" x2="246.60" y2="393.20" stroke="#1a1a1a" stroke-width="1.25" />
<text x="248.20" y="403.00" font-size="8.3" font-weight="bold" text-anchor="end" fill="#1a1a1a">10</text>
<text x="249.60" y="400.80" font-size="5.0" font-weight="bold" fill="#1a1a1a">-3</text>
<line x1="268.90" y1="388.60" x2="268.90" y2="393.20" stroke="#1a1a1a" stroke-width="1.25" />
<text x="270.50" y="403.00" font-size="8.3" font-weight="bold" text-anchor="end" fill="#1a1a1a">10</text>
<text x="271.90" y="400.80" font-size="5.0" font-weight="bold" fill="#1a1a1a">-2</text>
<line x1="291.20" y1="388.60" x2="291.20" y2="393.20" stroke="#1a1a1a" stroke-width="1.25" />
<text x="292.80" y="403.00" font-size="8.3" font-weight="bold" text-anchor="end" fill="#1a1a1a">10</text>
<text x="294.20" y="400.80" font-size="5.0" font-weight="bold" fill="#1a1a1a">-1</text>
<line x1="313.50" y1="388.60" x2="313.50" y2="393.20" stroke="#1a1a1a" stroke-width="1.25" />
<text x="315.10" y="403.00" font-size="8.3" font-weight="bold" text-anchor="end" fill="#1a1a1a">10</text>
<text x="316.50" y="400.80" font-size="5.0" font-weight="bold" fill="#1a1a1a">0</text>
<line x1="335.80" y1="388.60" x2="335.80" y2="393.20" stroke="#1a1a1a" stroke-width="1.25" />
<text x="337.40" y="403.00" font-size="8.3" font-weight="bold" text-anchor="end" fill="#1a1a1a">10</text>
<text x="338.80" y="400.80" font-size="5.0" font-weight="bold" fill="#1a1a1a">1</text>
<line x1="358.10" y1="388.60" x2="358.10" y2="393.20" stroke="#1a1a1a" stroke-width="1.25" />
<text x="359.70" y="403.00" font-size="8.3" font-weight="bold" text-anchor="end" fill="#1a1a1a">10</text>
<text x="361.10" y="400.80" font-size="5.0" font-weight="bold" fill="#1a1a1a">2</text>
<line x1="249.80" y1="332.90" x2="358.10" y2="332.90" stroke="#222" stroke-width="1" stroke-dasharray="1 1.6"/>
<text x="302.90" y="259.90" font-size="8.9" font-weight="bold" text-anchor="middle" fill="#111" >Brii-196_H11B11</text>
<text x="263.65" y="416.40" font-size="8.9" font-weight="bold" fill="#111" textLength="39.00" lengthAdjust="spacingAndGlyphs">Antibody</text>
<text x="304.95" y="415.80" font-size="8.722" font-weight="normal" fill="#111" textLength="2.60" lengthAdjust="spacingAndGlyphs">(</text>
<text x="310.45" y="416.40" font-size="8.9" font-weight="bold" fill="#111" textLength="24.80" lengthAdjust="spacingAndGlyphs">μg/ml</text>
<text x="336.65" y="415.80" font-size="8.722" font-weight="normal" fill="#111" textLength="2.60" lengthAdjust="spacingAndGlyphs">)</text>
<text transform="translate(221.10 332.90) rotate(-90)" font-size="9.3" font-weight="bold" text-anchor="middle" fill="#111">% Neutralization</text>
<path d="M258.27 388.20 C260.91 386.84 268.91 386.62 274.08 379.99 C279.24 373.35 285.24 359.76 289.25 348.38 C293.25 337.00 295.46 321.31 298.10 311.72 C300.73 302.13 303.15 294.55 305.05 290.86 C306.95 287.17 304.27 289.81 309.48 289.60 C314.68 289.38 331.81 289.60 336.28 289.60" stroke="#5CBDE9" stroke-width="1.15" fill="none"/>
<path d="M258.27 388.20 C260.91 386.52 268.91 385.99 274.08 378.09 C279.24 370.19 285.46 351.86 289.25 340.80 C293.04 329.73 294.20 319.73 296.83 311.72 C299.47 303.71 301.09 297.71 305.05 292.76 C309.01 287.80 315.40 284.12 320.60 282.01 C325.80 279.90 333.66 280.43 336.28 280.11" stroke="#48C248" stroke-width="1.15" fill="none"/>
<path d="M258.27 387.57 C260.91 385.78 268.91 385.25 274.08 376.83 C279.24 368.40 285.46 348.07 289.25 337.00 C293.04 325.94 294.20 317.09 296.83 310.46 C299.47 303.82 301.09 300.76 305.05 297.18 C309.01 293.60 315.40 290.75 320.60 288.96 C325.80 287.17 333.66 286.86 336.28 286.43" stroke="#E8403C" stroke-width="1.15" fill="none"/>
<path d="M258.27 379.99 C260.91 377.67 269.13 374.72 274.08 366.08 C279.03 357.44 283.98 339.74 287.98 328.15 C291.99 316.57 295.15 303.50 298.10 296.55 C301.05 289.60 301.89 288.96 305.68 286.43 C309.48 283.91 315.75 282.47 320.85 281.38 C325.95 280.28 333.71 280.11 336.28 279.86" stroke="#9C2A2C" stroke-width="1.15" fill="none"/>
<path d="M258.27 360.01 C260.91 356.18 270.18 344.53 274.08 337.00 C277.98 329.48 279.13 322.72 281.66 314.88 C284.19 307.04 287.52 295.56 289.25 289.97 C290.98 284.39 291.23 283.11 292.03 281.38 C292.83 279.65 291.88 279.90 294.05 279.61 C296.22 279.31 298.01 279.61 305.05 279.61 C312.09 279.61 331.07 279.61 336.28 279.61" stroke="#F08A3C" stroke-width="1.15" fill="none"/>
<line x1="274.08" y1="373.67" x2="274.08" y2="357.86" stroke="#5CBDE9" stroke-width="0.8" />
<line x1="272.58" y1="357.86" x2="275.58" y2="357.86" stroke="#5CBDE9" stroke-width="0.8" />
<circle cx="274.08" cy="373.67" r="2.00" fill="#5CBDE9"/>
<circle cx="289.25" cy="350.66" r="2.00" fill="#5CBDE9"/>
<line x1="305.05" y1="290.23" x2="305.05" y2="285.80" stroke="#5CBDE9" stroke-width="0.8" />
<line x1="303.55" y1="285.80" x2="306.55" y2="285.80" stroke="#5CBDE9" stroke-width="0.8" />
<circle cx="305.05" cy="290.23" r="2.00" fill="#5CBDE9"/>
<circle cx="320.60" cy="293.39" r="2.00" fill="#5CBDE9"/>
<path d="M274.08 376.00 L276.17 379.61 L271.99 379.61 Z" fill="#48C248"/>
<path d="M289.25 340.60 L291.34 344.21 L287.16 344.21 Z" fill="#48C248"/>
<path d="M305.05 290.03 L307.14 293.64 L302.96 293.64 Z" fill="#48C248"/>
<path d="M320.60 279.92 L322.69 283.53 L318.51 283.53 Z" fill="#48C248"/>
<path d="M336.28 278.66 L338.37 282.27 L334.19 282.27 Z" fill="#48C248"/>
<line x1="274.08" y1="371.14" x2="274.08" y2="359.51" stroke="#E8403C" stroke-width="0.8" />
<line x1="272.58" y1="359.51" x2="275.58" y2="359.51" stroke="#E8403C" stroke-width="0.8" />
<rect x="272.23" y="369.29" width="3.70" height="3.70" fill="#E8403C"/>
<rect x="287.40" y="335.15" width="3.70" height="3.70" fill="#E8403C"/>
<rect x="303.20" y="294.70" width="3.70" height="3.70" fill="#E8403C"/>
<line x1="320.60" y1="288.71" x2="320.60" y2="284.92" stroke="#E8403C" stroke-width="0.8" />
<line x1="319.10" y1="284.92" x2="322.10" y2="284.92" stroke="#E8403C" stroke-width="0.8" />
<rect x="318.75" y="286.86" width="3.70" height="3.70" fill="#E8403C"/>
<rect x="334.43" y="285.60" width="3.70" height="3.70" fill="#E8403C"/>
<line x1="258.27" y1="375.56" x2="258.27" y2="363.30" stroke="#9C2A2C" stroke-width="0.8" />
<line x1="256.77" y1="363.30" x2="259.77" y2="363.30" stroke="#9C2A2C" stroke-width="0.8" />
<rect x="256.12" y="373.41" width="4.30" height="4.30" fill="#9C2A2C"/>
<rect x="271.93" y="365.20" width="4.30" height="4.30" fill="#9C2A2C"/>
<rect x="287.10" y="322.21" width="4.30" height="4.30" fill="#9C2A2C"/>
<rect x="334.13" y="277.71" width="4.30" height="4.30" fill="#9C2A2C"/>
<line x1="258.27" y1="360.01" x2="258.27" y2="348.38" stroke="#F08A3C" stroke-width="0.8" />
<line x1="256.77" y1="348.38" x2="259.77" y2="348.38" stroke="#F08A3C" stroke-width="0.8" />
<circle cx="258.27" cy="360.01" r="1.45" fill="#F08A3C"/>
<line x1="274.08" y1="337.00" x2="274.08" y2="325.25" stroke="#F08A3C" stroke-width="0.8" />
<line x1="272.58" y1="325.25" x2="275.58" y2="325.25" stroke="#F08A3C" stroke-width="0.8" />
<circle cx="274.08" cy="337.00" r="1.45" fill="#F08A3C"/>
<circle cx="289.25" cy="289.97" r="1.45" fill="#F08A3C"/>
<circle cx="305.05" cy="280.11" r="1.45" fill="#F08A3C"/>
<circle cx="320.60" cy="279.48" r="1.45" fill="#F08A3C"/>
<circle cx="336.28" cy="279.86" r="1.45" fill="#F08A3C"/>
<path d="M410.3 276.60 V388.60 H521.90" stroke="#1a1a1a" stroke-width="1.25" fill="none"/>
<line x1="406.10" y1="388.60" x2="410.30" y2="388.60" stroke="#1a1a1a" stroke-width="1.25" />
<text transform="translate(405.10 391.70) scale(0.92 1)" font-size="8.7" font-weight="bold" text-anchor="end" fill="#1a1a1a">0</text>
<line x1="406.10" y1="366.32" x2="410.30" y2="366.32" stroke="#1a1a1a" stroke-width="1.25" />
<text transform="translate(405.10 369.42) scale(0.92 1)" font-size="8.7" font-weight="bold" text-anchor="end" fill="#1a1a1a">20</text>
<line x1="406.10" y1="344.04" x2="410.30" y2="344.04" stroke="#1a1a1a" stroke-width="1.25" />
<text transform="translate(405.10 347.14) scale(0.92 1)" font-size="8.7" font-weight="bold" text-anchor="end" fill="#1a1a1a">40</text>
<line x1="406.10" y1="321.76" x2="410.30" y2="321.76" stroke="#1a1a1a" stroke-width="1.25" />
<text transform="translate(405.10 324.86) scale(0.92 1)" font-size="8.7" font-weight="bold" text-anchor="end" fill="#1a1a1a">60</text>
<line x1="406.10" y1="299.48" x2="410.30" y2="299.48" stroke="#1a1a1a" stroke-width="1.25" />
<text transform="translate(405.10 302.58) scale(0.92 1)" font-size="8.7" font-weight="bold" text-anchor="end" fill="#1a1a1a">80</text>
<line x1="406.10" y1="277.20" x2="410.30" y2="277.20" stroke="#1a1a1a" stroke-width="1.25" />
<text transform="translate(405.10 280.30) scale(0.92 1)" font-size="8.7" font-weight="bold" text-anchor="end" fill="#1a1a1a">100</text>
<line x1="410.30" y1="388.60" x2="410.30" y2="393.20" stroke="#1a1a1a" stroke-width="1.25" />
<text x="411.90" y="403.00" font-size="8.3" font-weight="bold" text-anchor="end" fill="#1a1a1a">10</text>
<text x="413.30" y="400.80" font-size="5.0" font-weight="bold" fill="#1a1a1a">-4</text>
<line x1="428.90" y1="388.60" x2="428.90" y2="393.20" stroke="#1a1a1a" stroke-width="1.25" />
<text x="430.50" y="403.00" font-size="8.3" font-weight="bold" text-anchor="end" fill="#1a1a1a">10</text>
<text x="431.90" y="400.80" font-size="5.0" font-weight="bold" fill="#1a1a1a">-3</text>
<line x1="447.50" y1="388.60" x2="447.50" y2="393.20" stroke="#1a1a1a" stroke-width="1.25" />
<text x="449.10" y="403.00" font-size="8.3" font-weight="bold" text-anchor="end" fill="#1a1a1a">10</text>
<text x="450.50" y="400.80" font-size="5.0" font-weight="bold" fill="#1a1a1a">-2</text>
<line x1="466.10" y1="388.60" x2="466.10" y2="393.20" stroke="#1a1a1a" stroke-width="1.25" />
<text x="467.70" y="403.00" font-size="8.3" font-weight="bold" text-anchor="end" fill="#1a1a1a">10</text>
<text x="469.10" y="400.80" font-size="5.0" font-weight="bold" fill="#1a1a1a">-1</text>
<line x1="484.70" y1="388.60" x2="484.70" y2="393.20" stroke="#1a1a1a" stroke-width="1.25" />
<text x="486.30" y="403.00" font-size="8.3" font-weight="bold" text-anchor="end" fill="#1a1a1a">10</text>
<text x="487.70" y="400.80" font-size="5.0" font-weight="bold" fill="#1a1a1a">0</text>
<line x1="503.30" y1="388.60" x2="503.30" y2="393.20" stroke="#1a1a1a" stroke-width="1.25" />
<text x="504.90" y="403.00" font-size="8.3" font-weight="bold" text-anchor="end" fill="#1a1a1a">10</text>
<text x="506.30" y="400.80" font-size="5.0" font-weight="bold" fill="#1a1a1a">1</text>
<line x1="521.90" y1="388.60" x2="521.90" y2="393.20" stroke="#1a1a1a" stroke-width="1.25" />
<text x="523.50" y="403.00" font-size="8.3" font-weight="bold" text-anchor="end" fill="#1a1a1a">10</text>
<text x="524.90" y="400.80" font-size="5.0" font-weight="bold" fill="#1a1a1a">2</text>
<line x1="413.50" y1="332.90" x2="521.90" y2="332.90" stroke="#222" stroke-width="1" stroke-dasharray="1 1.6"/>
<text x="461.50" y="259.90" font-size="8.9" font-weight="bold" text-anchor="middle" fill="#111" >H11B11_m336</text>
<text x="427.40" y="416.40" font-size="8.9" font-weight="bold" fill="#111" textLength="39.00" lengthAdjust="spacingAndGlyphs">Antibody</text>
<text x="468.70" y="415.80" font-size="8.722" font-weight="normal" fill="#111" textLength="2.60" lengthAdjust="spacingAndGlyphs">(</text>
<text x="474.20" y="416.40" font-size="8.9" font-weight="bold" fill="#111" textLength="24.80" lengthAdjust="spacingAndGlyphs">μg/ml</text>
<text x="500.40" y="415.80" font-size="8.722" font-weight="normal" fill="#111" textLength="2.60" lengthAdjust="spacingAndGlyphs">)</text>
<text transform="translate(384.80 332.90) rotate(-90)" font-size="9.3" font-weight="bold" text-anchor="middle" fill="#111">% Neutralization</text>
<path d="M438.01 369.87 C440.18 368.08 446.69 364.82 451.03 359.13 C455.37 353.44 460.79 343.64 464.05 335.74 C467.32 327.84 468.43 318.46 470.63 311.72 C472.82 304.98 475.09 299.39 477.20 295.28 C479.31 291.18 481.10 288.65 483.27 287.07 C485.44 285.49 486.91 286.01 490.22 285.80 C493.53 285.59 500.97 285.80 503.12 285.80" stroke="#5CBDE9" stroke-width="1.15" fill="none"/>
<path d="M438.01 382.52 C440.18 380.41 446.69 378.51 451.03 369.87 C455.37 361.23 460.79 340.38 464.05 330.68 C467.32 320.99 468.43 316.57 470.63 311.72 C472.82 306.87 475.09 305.19 477.20 301.61 C479.31 298.02 481.10 293.39 483.27 290.23 C485.44 287.07 486.91 284.22 490.22 282.64 C493.53 281.06 500.97 281.06 503.12 280.75" stroke="#48C248" stroke-width="1.15" fill="none"/>
<path d="M438.01 383.15 C440.18 380.62 446.69 377.04 451.03 367.98 C455.37 358.92 460.79 338.37 464.05 328.79 C467.32 319.20 468.43 315.30 470.63 310.46 C472.82 305.61 475.09 302.24 477.20 299.71 C479.31 297.18 481.10 296.23 483.27 295.28 C485.44 294.34 486.91 294.13 490.22 294.02 C493.53 293.91 500.97 294.55 503.12 294.65" stroke="#E8403C" stroke-width="1.15" fill="none"/>
<path d="M438.01 371.14 C440.18 369.56 446.69 368.82 451.03 361.66 C455.37 354.49 460.79 338.16 464.05 328.15 C467.32 318.15 468.43 307.82 470.63 301.61 C472.82 295.39 475.09 294.02 477.20 290.86 C479.31 287.70 481.10 284.22 483.27 282.64 C485.44 281.06 486.91 281.69 490.22 281.38 C493.53 281.06 500.97 280.85 503.12 280.75" stroke="#9C2A2C" stroke-width="1.15" fill="none"/>
<path d="M438.01 368.61 C440.18 366.12 447.70 359.17 451.03 353.69 C454.36 348.21 455.81 342.21 457.98 335.74 C460.15 329.27 461.94 321.83 464.05 314.88 C466.16 307.93 468.43 299.08 470.63 294.02 C472.82 288.96 475.09 286.65 477.20 284.54 C479.31 282.43 481.10 282.01 483.27 281.38 C485.44 280.75 486.91 280.96 490.22 280.75 C493.53 280.54 500.97 280.22 503.12 280.11" stroke="#F08A3C" stroke-width="1.15" fill="none"/>
<path d="M425.11 357.86 C426.17 355.02 429.29 346.38 431.43 340.80 C433.58 335.21 435.90 331.10 438.01 324.36 C440.12 317.62 441.91 306.98 444.08 300.34 C446.25 293.70 448.71 288.08 451.03 284.54 C453.35 281.00 455.81 280.09 457.98 279.10 C460.15 278.11 460.85 278.81 464.05 278.60 C467.25 278.39 472.84 278.01 477.20 277.84 C481.56 277.67 488.05 277.63 490.22 277.59" stroke="#2D6E46" stroke-width="1.15" fill="none"/>
<line x1="438.01" y1="350.66" x2="438.01" y2="341.43" stroke="#5CBDE9" stroke-width="0.8" />
<line x1="436.51" y1="341.43" x2="439.51" y2="341.43" stroke="#5CBDE9" stroke-width="0.8" />
<circle cx="438.01" cy="350.66" r="2.00" fill="#5CBDE9"/>
<circle cx="451.03" cy="373.67" r="2.00" fill="#5CBDE9"/>
<circle cx="464.05" cy="338.27" r="2.00" fill="#5CBDE9"/>
<circle cx="477.20" cy="295.92" r="2.00" fill="#5CBDE9"/>
<circle cx="490.22" cy="284.92" r="2.00" fill="#5CBDE9"/>
<circle cx="503.12" cy="286.43" r="2.00" fill="#5CBDE9"/>
<path d="M438.01 380.43 L440.10 384.04 L435.92 384.04 Z" fill="#48C248"/>
<path d="M451.03 369.05 L453.12 372.66 L448.94 372.66 Z" fill="#48C248"/>
<path d="M464.05 329.86 L466.14 333.47 L461.96 333.47 Z" fill="#48C248"/>
<path d="M477.20 299.52 L479.29 303.13 L475.11 303.13 Z" fill="#48C248"/>
<path d="M490.22 280.55 L492.31 284.16 L488.13 284.16 Z" fill="#48C248"/>
<path d="M503.12 278.66 L505.21 282.27 L501.03 282.27 Z" fill="#48C248"/>
<rect x="436.16" y="381.30" width="3.70" height="3.70" fill="#E8403C"/>
<rect x="449.18" y="366.13" width="3.70" height="3.70" fill="#E8403C"/>
<line x1="464.05" y1="328.79" x2="464.05" y2="323.73" stroke="#E8403C" stroke-width="0.8" />
<line x1="462.55" y1="323.73" x2="465.55" y2="323.73" stroke="#E8403C" stroke-width="0.8" />
<rect x="462.20" y="326.94" width="3.70" height="3.70" fill="#E8403C"/>
<rect x="475.35" y="297.86" width="3.70" height="3.70" fill="#E8403C"/>
<line x1="490.22" y1="293.39" x2="490.22" y2="286.43" stroke="#E8403C" stroke-width="0.8" />
<line x1="488.72" y1="286.43" x2="491.72" y2="286.43" stroke="#E8403C" stroke-width="0.8" />
<rect x="488.37" y="291.54" width="3.70" height="3.70" fill="#E8403C"/>
<rect x="501.27" y="293.18" width="3.70" height="3.70" fill="#E8403C"/>
<line x1="438.01" y1="369.87" x2="438.01" y2="362.29" stroke="#9C2A2C" stroke-width="0.8" />
<line x1="436.51" y1="362.29" x2="439.51" y2="362.29" stroke="#9C2A2C" stroke-width="0.8" />
<rect x="435.86" y="367.72" width="4.30" height="4.30" fill="#9C2A2C"/>
<rect x="448.88" y="359.51" width="4.30" height="4.30" fill="#9C2A2C"/>
<rect x="461.90" y="326.26" width="4.30" height="4.30" fill="#9C2A2C"/>
<rect x="475.05" y="289.34" width="4.30" height="4.30" fill="#9C2A2C"/>
<rect x="488.07" y="279.86" width="4.30" height="4.30" fill="#9C2A2C"/>
<rect x="500.97" y="277.96" width="4.30" height="4.30" fill="#9C2A2C"/>
<circle cx="438.01" cy="368.61" r="1.45" fill="#F08A3C"/>
<line x1="451.03" y1="353.69" x2="451.03" y2="349.65" stroke="#F08A3C" stroke-width="0.8" />
<line x1="449.53" y1="349.65" x2="452.53" y2="349.65" stroke="#F08A3C" stroke-width="0.8" />
<circle cx="451.03" cy="353.69" r="1.45" fill="#F08A3C"/>
<line x1="464.05" y1="314.88" x2="464.05" y2="313.62" stroke="#F08A3C" stroke-width="0.8" />
<line x1="462.55" y1="313.62" x2="465.55" y2="313.62" stroke="#F08A3C" stroke-width="0.8" />
<circle cx="464.05" cy="314.88" r="1.45" fill="#F08A3C"/>
<circle cx="477.20" cy="284.54" r="1.45" fill="#F08A3C"/>
<circle cx="490.22" cy="280.75" r="1.45" fill="#F08A3C"/>
<circle cx="503.12" cy="280.11" r="1.45" fill="#F08A3C"/>
<line x1="425.11" y1="357.86" x2="425.11" y2="350.28" stroke="#2D6E46" stroke-width="0.8" />
<line x1="423.61" y1="350.28" x2="426.61" y2="350.28" stroke="#2D6E46" stroke-width="0.8" />
<circle cx="425.11" cy="357.86" r="1.50" fill="#2D6E46"/>
<line x1="438.01" y1="324.36" x2="438.01" y2="320.57" stroke="#2D6E46" stroke-width="0.8" />
<line x1="436.51" y1="320.57" x2="439.51" y2="320.57" stroke="#2D6E46" stroke-width="0.8" />
<circle cx="438.01" cy="324.36" r="1.50" fill="#2D6E46"/>
<circle cx="451.03" cy="284.54" r="1.50" fill="#2D6E46"/>
<circle cx="464.05" cy="278.60" r="1.50" fill="#2D6E46"/>
<circle cx="477.20" cy="277.84" r="1.50" fill="#2D6E46"/>
<circle cx="490.22" cy="277.59" r="1.50" fill="#2D6E46"/>
<path d="M580.3 278.10 V388.60 H690.70" stroke="#1a1a1a" stroke-width="1.25" fill="none"/>
<line x1="576.10" y1="388.60" x2="580.30" y2="388.60" stroke="#1a1a1a" stroke-width="1.25" />
<text transform="translate(575.10 391.70) scale(0.92 1)" font-size="8.7" font-weight="bold" text-anchor="end" fill="#1a1a1a">0</text>
<line x1="576.10" y1="366.62" x2="580.30" y2="366.62" stroke="#1a1a1a" stroke-width="1.25" />
<text transform="translate(575.10 369.72) scale(0.92 1)" font-size="8.7" font-weight="bold" text-anchor="end" fill="#1a1a1a">20</text>
<line x1="576.10" y1="344.64" x2="580.30" y2="344.64" stroke="#1a1a1a" stroke-width="1.25" />
<text transform="translate(575.10 347.74) scale(0.92 1)" font-size="8.7" font-weight="bold" text-anchor="end" fill="#1a1a1a">40</text>
<line x1="576.10" y1="322.66" x2="580.30" y2="322.66" stroke="#1a1a1a" stroke-width="1.25" />
<text transform="translate(575.10 325.76) scale(0.92 1)" font-size="8.7" font-weight="bold" text-anchor="end" fill="#1a1a1a">60</text>
<line x1="576.10" y1="300.68" x2="580.30" y2="300.68" stroke="#1a1a1a" stroke-width="1.25" />
<text transform="translate(575.10 303.78) scale(0.92 1)" font-size="8.7" font-weight="bold" text-anchor="end" fill="#1a1a1a">80</text>
<line x1="576.10" y1="278.70" x2="580.30" y2="278.70" stroke="#1a1a1a" stroke-width="1.25" />
<text transform="translate(575.10 281.80) scale(0.92 1)" font-size="8.7" font-weight="bold" text-anchor="end" fill="#1a1a1a">100</text>
<line x1="580.30" y1="388.60" x2="580.30" y2="393.20" stroke="#1a1a1a" stroke-width="1.25" />
<text x="581.90" y="403.00" font-size="8.3" font-weight="bold" text-anchor="end" fill="#1a1a1a">10</text>
<text x="583.30" y="400.80" font-size="5.0" font-weight="bold" fill="#1a1a1a">-4</text>
<line x1="598.70" y1="388.60" x2="598.70" y2="393.20" stroke="#1a1a1a" stroke-width="1.25" />
<text x="600.30" y="403.00" font-size="8.3" font-weight="bold" text-anchor="end" fill="#1a1a1a">10</text>
<text x="601.70" y="400.80" font-size="5.0" font-weight="bold" fill="#1a1a1a">-3</text>
<line x1="617.10" y1="388.60" x2="617.10" y2="393.20" stroke="#1a1a1a" stroke-width="1.25" />
<text x="618.70" y="403.00" font-size="8.3" font-weight="bold" text-anchor="end" fill="#1a1a1a">10</text>
<text x="620.10" y="400.80" font-size="5.0" font-weight="bold" fill="#1a1a1a">-2</text>
<line x1="635.50" y1="388.60" x2="635.50" y2="393.20" stroke="#1a1a1a" stroke-width="1.25" />
<text x="637.10" y="403.00" font-size="8.3" font-weight="bold" text-anchor="end" fill="#1a1a1a">10</text>
<text x="638.50" y="400.80" font-size="5.0" font-weight="bold" fill="#1a1a1a">-1</text>
<line x1="653.90" y1="388.60" x2="653.90" y2="393.20" stroke="#1a1a1a" stroke-width="1.25" />
<text x="655.50" y="403.00" font-size="8.3" font-weight="bold" text-anchor="end" fill="#1a1a1a">10</text>
<text x="656.90" y="400.80" font-size="5.0" font-weight="bold" fill="#1a1a1a">0</text>
<line x1="672.30" y1="388.60" x2="672.30" y2="393.20" stroke="#1a1a1a" stroke-width="1.25" />
<text x="673.90" y="403.00" font-size="8.3" font-weight="bold" text-anchor="end" fill="#1a1a1a">10</text>
<text x="675.30" y="400.80" font-size="5.0" font-weight="bold" fill="#1a1a1a">1</text>
<line x1="690.70" y1="388.60" x2="690.70" y2="393.20" stroke="#1a1a1a" stroke-width="1.25" />
<text x="692.30" y="403.00" font-size="8.3" font-weight="bold" text-anchor="end" fill="#1a1a1a">10</text>
<text x="693.70" y="400.80" font-size="5.0" font-weight="bold" fill="#1a1a1a">2</text>
<line x1="583.50" y1="333.65" x2="690.70" y2="333.65" stroke="#222" stroke-width="1" stroke-dasharray="1 1.6"/>
<text x="631.00" y="261.90" font-size="8.9" font-weight="bold" text-anchor="middle" fill="#111" >m336_H11B11</text>
<text x="596.80" y="416.40" font-size="8.9" font-weight="bold" fill="#111" textLength="39.00" lengthAdjust="spacingAndGlyphs">Antibody</text>
<text x="638.10" y="415.80" font-size="8.722" font-weight="normal" fill="#111" textLength="2.60" lengthAdjust="spacingAndGlyphs">(</text>
<text x="643.60" y="416.40" font-size="8.9" font-weight="bold" fill="#111" textLength="24.80" lengthAdjust="spacingAndGlyphs">μg/ml</text>
<text x="669.80" y="415.80" font-size="8.722" font-weight="normal" fill="#111" textLength="2.60" lengthAdjust="spacingAndGlyphs">)</text>
<text transform="translate(554.80 333.65) rotate(-90)" font-size="9.3" font-weight="bold" text-anchor="middle" fill="#111">% Neutralization</text>
<path d="M608.01 388.46 C610.14 388.46 616.50 388.50 620.78 388.46 C625.05 388.42 630.36 389.62 633.67 388.20 C636.98 386.79 638.48 384.10 640.63 379.99 C642.77 375.88 644.46 370.93 646.57 363.55 C648.67 356.18 651.14 343.54 653.27 335.74 C655.40 327.94 657.23 322.25 659.34 316.78 C661.44 311.30 663.76 306.35 665.91 302.87 C668.06 299.39 671.18 297.08 672.23 295.92" stroke="#5CBDE9" stroke-width="1.15" fill="none"/>
<path d="M608.01 388.46 C610.14 388.46 616.50 388.61 620.78 388.46 C625.05 388.31 630.36 389.62 633.67 387.57 C636.98 385.53 638.48 381.04 640.63 376.19 C642.77 371.35 644.46 365.87 646.57 358.50 C648.67 351.12 651.14 339.53 653.27 331.95 C655.40 324.36 657.23 318.46 659.34 312.98 C661.44 307.51 663.76 303.08 665.91 299.08 C668.06 295.07 671.18 290.65 672.23 288.96" stroke="#48C248" stroke-width="1.15" fill="none"/>
<path d="M608.01 388.20 C610.14 387.89 616.50 387.47 620.78 386.31 C625.05 385.15 629.37 384.20 633.67 381.25 C637.97 378.30 643.30 375.35 646.57 368.61 C649.83 361.87 651.14 350.49 653.27 340.80 C655.40 331.10 657.86 317.72 659.34 310.46 C660.81 303.19 659.97 299.39 662.12 297.18 C664.27 294.97 670.55 297.18 672.23 297.18" stroke="#E8403C" stroke-width="1.15" fill="none"/>
<path d="M608.01 388.20 C610.14 387.78 616.50 387.36 620.78 385.68 C625.05 383.99 629.37 384.31 633.67 378.09 C637.97 371.88 643.30 356.92 646.57 348.38 C649.83 339.85 651.14 333.42 653.27 326.89 C655.40 320.36 657.23 314.46 659.34 309.19 C661.44 303.92 663.76 298.87 665.91 295.28 C668.06 291.70 671.18 288.96 672.23 287.70" stroke="#9C2A2C" stroke-width="1.15" fill="none"/>
<path d="M608.01 388.20 C610.14 387.57 616.50 386.41 620.78 384.41 C625.05 382.41 630.36 380.09 633.67 376.19 C636.98 372.30 638.48 367.77 640.63 361.02 C642.77 354.28 644.46 343.96 646.57 335.74 C648.67 327.52 651.14 317.72 653.27 311.72 C655.40 305.71 657.23 302.98 659.34 299.71 C661.44 296.44 663.76 294.23 665.91 292.12 C668.06 290.02 671.18 287.91 672.23 287.07" stroke="#F08A3C" stroke-width="1.15" fill="none"/>
<path d="M595.11 309.44 C597.26 306.49 604.64 296.32 608.01 291.74 C611.38 287.17 613.21 284.12 615.34 282.01 C617.47 279.90 617.72 279.63 620.78 279.10 C623.83 278.58 629.37 278.89 633.67 278.85 C637.97 278.81 642.29 278.85 646.57 278.85 C650.84 278.85 657.21 278.85 659.34 278.85" stroke="#2D6E46" stroke-width="1.15" fill="none"/>
<line x1="608.01" y1="387.57" x2="608.01" y2="366.71" stroke="#5CBDE9" stroke-width="0.8" />
<line x1="606.51" y1="366.71" x2="609.51" y2="366.71" stroke="#5CBDE9" stroke-width="0.8" />
<circle cx="608.01" cy="387.57" r="2.00" fill="#5CBDE9"/>
<line x1="620.78" y1="379.36" x2="620.78" y2="368.36" stroke="#5CBDE9" stroke-width="0.8" />
<line x1="619.28" y1="368.36" x2="622.28" y2="368.36" stroke="#5CBDE9" stroke-width="0.8" />
<circle cx="620.78" cy="379.36" r="2.00" fill="#5CBDE9"/>
<circle cx="646.57" cy="360.77" r="2.00" fill="#5CBDE9"/>
<circle cx="659.34" cy="316.52" r="2.00" fill="#5CBDE9"/>
<circle cx="672.23" cy="285.17" r="2.00" fill="#5CBDE9"/>
<path d="M608.01 386.11 L610.10 389.72 L605.92 389.72 Z" fill="#48C248"/>
<path d="M633.67 386.11 L635.76 389.72 L631.58 389.72 Z" fill="#48C248"/>
<path d="M646.57 356.41 L648.66 360.02 L644.48 360.02 Z" fill="#48C248"/>
<path d="M659.34 309.63 L661.43 313.24 L657.25 313.24 Z" fill="#48C248"/>
<path d="M672.23 286.87 L674.32 290.48 L670.14 290.48 Z" fill="#48C248"/>
<line x1="608.01" y1="376.57" x2="608.01" y2="371.14" stroke="#E8403C" stroke-width="0.8" />
<line x1="606.51" y1="371.14" x2="609.51" y2="371.14" stroke="#E8403C" stroke-width="0.8" />
<rect x="606.16" y="374.72" width="3.70" height="3.70" fill="#E8403C"/>
<line x1="633.67" y1="370.51" x2="633.67" y2="358.50" stroke="#E8403C" stroke-width="0.8" />
<line x1="632.17" y1="358.50" x2="635.17" y2="358.50" stroke="#E8403C" stroke-width="0.8" />
<rect x="631.82" y="368.66" width="3.70" height="3.70" fill="#E8403C"/>
<line x1="646.57" y1="374.30" x2="646.57" y2="369.87" stroke="#E8403C" stroke-width="0.8" />
<line x1="645.07" y1="369.87" x2="648.07" y2="369.87" stroke="#E8403C" stroke-width="0.8" />
<rect x="644.72" y="372.45" width="3.70" height="3.70" fill="#E8403C"/>
<rect x="657.49" y="308.61" width="3.70" height="3.70" fill="#E8403C"/>
<rect x="670.38" y="295.71" width="3.70" height="3.70" fill="#E8403C"/>
<rect x="605.86" y="379.35" width="4.30" height="4.30" fill="#9C2A2C"/>
<rect x="631.52" y="374.04" width="4.30" height="4.30" fill="#9C2A2C"/>
<rect x="644.42" y="345.98" width="4.30" height="4.30" fill="#9C2A2C"/>
<rect x="657.19" y="307.29" width="4.30" height="4.30" fill="#9C2A2C"/>
<rect x="670.08" y="285.55" width="4.30" height="4.30" fill="#9C2A2C"/>
<circle cx="608.01" cy="384.41" r="1.45" fill="#F08A3C"/>
<line x1="620.78" y1="378.98" x2="620.78" y2="370.51" stroke="#F08A3C" stroke-width="0.8" />
<line x1="619.28" y1="370.51" x2="622.28" y2="370.51" stroke="#F08A3C" stroke-width="0.8" />
<circle cx="620.78" cy="378.98" r="1.45" fill="#F08A3C"/>
<circle cx="633.67" cy="377.46" r="1.45" fill="#F08A3C"/>
<line x1="646.57" y1="334.48" x2="646.57" y2="330.43" stroke="#F08A3C" stroke-width="0.8" />
<line x1="645.07" y1="330.43" x2="648.07" y2="330.43" stroke="#F08A3C" stroke-width="0.8" />
<circle cx="646.57" cy="334.48" r="1.45" fill="#F08A3C"/>
<circle cx="659.34" cy="300.34" r="1.45" fill="#F08A3C"/>
<circle cx="672.23" cy="287.07" r="1.45" fill="#F08A3C"/>
<circle cx="595.11" cy="309.44" r="1.50" fill="#2D6E46"/>
<circle cx="608.01" cy="291.74" r="1.50" fill="#2D6E46"/>
<circle cx="620.78" cy="279.10" r="1.50" fill="#2D6E46"/>
<circle cx="633.67" cy="278.85" r="1.50" fill="#2D6E46"/>
<circle cx="646.57" cy="278.85" r="1.50" fill="#2D6E46"/>
<circle cx="659.34" cy="278.85" r="1.50" fill="#2D6E46"/>
<line x1="715.80" y1="286.40" x2="727.60" y2="286.40" stroke="#F08A3C" stroke-width="1.3" />
<circle cx="721.60" cy="286.40" r="1.52" fill="#F08A3C"/>
<text x="734.20" y="289.60" font-size="8.7" font-weight="bold" text-anchor="start" fill="#111" >WT</text>
<line x1="715.80" y1="301.80" x2="727.60" y2="301.80" stroke="#E8403C" stroke-width="1.3" />
<rect x="719.66" y="299.86" width="3.89" height="3.89" fill="#E8403C"/>
<text x="734.20" y="305.00" font-size="8.7" font-weight="bold" text-anchor="start" fill="#111" >BA.2</text>
<line x1="715.80" y1="317.20" x2="727.60" y2="317.20" stroke="#5CBDE9" stroke-width="1.3" />
<circle cx="721.60" cy="317.20" r="2.10" fill="#5CBDE9"/>
<text x="734.20" y="320.40" font-size="8.7" font-weight="bold" text-anchor="start" fill="#111" >BA.5</text>
<line x1="715.80" y1="332.60" x2="727.60" y2="332.60" stroke="#48C248" stroke-width="1.3" />
<path d="M721.60 330.41 L723.79 334.20 L719.41 334.20 Z" fill="#48C248"/>
<text x="734.20" y="335.80" font-size="8.7" font-weight="bold" text-anchor="start" fill="#111" >XBB.1.5</text>
<line x1="715.80" y1="348.00" x2="727.60" y2="348.00" stroke="#9C2A2C" stroke-width="1.3" />
<rect x="719.34" y="345.74" width="4.51" height="4.51" fill="#9C2A2C"/>
<text x="734.20" y="351.20" font-size="8.7" font-weight="bold" text-anchor="start" fill="#111" >SARS-CoV</text>
<line x1="715.80" y1="363.40" x2="727.60" y2="363.40" stroke="#2D6E46" stroke-width="1.3" />
<circle cx="721.60" cy="363.40" r="1.58" fill="#2D6E46"/>
<text x="734.20" y="366.60" font-size="8.7" font-weight="bold" text-anchor="start" fill="#111" >MERS-CoV</text>
<rect x="93.40" y="493.50" width="80.50" height="15.82" fill="#F9D77A"/>
<rect x="173.30" y="493.50" width="83.30" height="15.82" fill="#F6C245"/>
<rect x="256.00" y="493.50" width="75.60" height="15.82" fill="#F9D77A"/>
<rect x="331.00" y="493.50" width="68.10" height="15.82" fill="#FDF1D2"/>
<rect x="398.50" y="493.50" width="51.60" height="15.82" fill="#F9D77A"/>
<rect x="449.50" y="493.50" width="51.50" height="15.82" fill="#F9D77A"/>
<rect x="500.40" y="493.50" width="51.90" height="15.82" fill="#7F7F7F"/>
<rect x="93.40" y="508.72" width="80.50" height="15.82" fill="#FDF1D2"/>
<rect x="173.30" y="508.72" width="83.30" height="15.82" fill="#F6C245"/>
<rect x="256.00" y="508.72" width="75.60" height="15.82" fill="#FBE3A3"/>
<rect x="331.00" y="508.72" width="68.10" height="15.82" fill="#FDF1D2"/>
<rect x="398.50" y="508.72" width="51.60" height="15.82" fill="#F9D77A"/>
<rect x="449.50" y="508.72" width="51.50" height="15.82" fill="#F6C245"/>
<rect x="500.40" y="508.72" width="51.90" height="15.82" fill="#7F7F7F"/>
<rect x="93.40" y="523.94" width="80.50" height="15.82" fill="#FBE3A3"/>
<rect x="173.30" y="523.94" width="83.30" height="15.82" fill="#F6C245"/>
<rect x="256.00" y="523.94" width="75.60" height="15.82" fill="#FBE3A3"/>
<rect x="331.00" y="523.94" width="68.10" height="15.82" fill="#FFFFFF"/>
<rect x="398.50" y="523.94" width="51.60" height="15.82" fill="#F6C245"/>
<rect x="449.50" y="523.94" width="51.50" height="15.82" fill="#F6C245"/>
<rect x="500.40" y="523.94" width="51.90" height="15.82" fill="#7F7F7F"/>
<rect x="93.40" y="539.16" width="80.50" height="15.82" fill="#F9D77A"/>
<rect x="173.30" y="539.16" width="83.30" height="15.82" fill="#F6C245"/>
<rect x="256.00" y="539.16" width="75.60" height="15.82" fill="#FBE3A3"/>
<rect x="331.00" y="539.16" width="68.10" height="15.82" fill="#FDF1D2"/>
<rect x="398.50" y="539.16" width="51.60" height="15.82" fill="#F9D77A"/>
<rect x="449.50" y="539.16" width="51.50" height="15.82" fill="#F6C245"/>
<rect x="500.40" y="539.16" width="51.90" height="15.82" fill="#7F7F7F"/>
<rect x="93.40" y="554.38" width="80.50" height="15.82" fill="#F9D77A"/>
<rect x="173.30" y="554.38" width="83.30" height="15.82" fill="#F6C245"/>
<rect x="256.00" y="554.38" width="75.60" height="15.82" fill="#F9D77A"/>
<rect x="331.00" y="554.38" width="68.10" height="15.82" fill="#FDF1D2"/>
<rect x="398.50" y="554.38" width="51.60" height="15.82" fill="#F6C245"/>
<rect x="449.50" y="554.38" width="51.50" height="15.82" fill="#F6C245"/>
<rect x="500.40" y="554.38" width="51.90" height="15.82" fill="#7F7F7F"/>
<rect x="93.40" y="569.60" width="80.50" height="15.82" fill="#F9D77A"/>
<rect x="173.30" y="569.60" width="83.30" height="15.82" fill="#FBE3A3"/>
<rect x="256.00" y="569.60" width="75.60" height="15.82" fill="#F9D77A"/>
<rect x="331.00" y="569.60" width="68.10" height="15.82" fill="#FBE3A3"/>
<rect x="398.50" y="569.60" width="51.60" height="15.82" fill="#F6C245"/>
<rect x="449.50" y="569.60" width="51.50" height="15.82" fill="#FFFFFF"/>
<rect x="500.40" y="569.60" width="51.90" height="15.82" fill="#7F7F7F"/>
<rect x="93.40" y="584.82" width="80.50" height="15.82" fill="#FBE3A3"/>
<rect x="173.30" y="584.82" width="83.30" height="15.82" fill="#FDF1D2"/>
<rect x="256.00" y="584.82" width="75.60" height="15.82" fill="#F9D77A"/>
<rect x="331.00" y="584.82" width="68.10" height="15.82" fill="#FFFFFF"/>
<rect x="398.50" y="584.82" width="51.60" height="15.82" fill="#F9D77A"/>
<rect x="449.50" y="584.82" width="51.50" height="15.82" fill="#FFFFFF"/>
<rect x="500.40" y="584.82" width="51.90" height="15.82" fill="#7F7F7F"/>
<rect x="93.40" y="600.04" width="80.50" height="15.82" fill="#FBE3A3"/>
<rect x="173.30" y="600.04" width="83.30" height="15.82" fill="#FDF1D2"/>
<rect x="256.00" y="600.04" width="75.60" height="15.82" fill="#F9D77A"/>
<rect x="331.00" y="600.04" width="68.10" height="15.82" fill="#FDF1D2"/>
<rect x="398.50" y="600.04" width="51.60" height="15.82" fill="#F6C245"/>
<rect x="449.50" y="600.04" width="51.50" height="15.82" fill="#FDF1D2"/>
<rect x="500.40" y="600.04" width="51.90" height="15.82" fill="#7F7F7F"/>
<rect x="93.40" y="615.26" width="80.50" height="15.82" fill="#FDF1D2"/>
<rect x="173.30" y="615.26" width="83.30" height="15.82" fill="#FDF1D2"/>
<rect x="256.00" y="615.26" width="75.60" height="15.82" fill="#FBE3A3"/>
<rect x="331.00" y="615.26" width="68.10" height="15.82" fill="#FFFFFF"/>
<rect x="398.50" y="615.26" width="51.60" height="15.82" fill="#F9D77A"/>
<rect x="449.50" y="615.26" width="51.50" height="15.82" fill="#FFFFFF"/>
<rect x="500.40" y="615.26" width="51.90" height="15.82" fill="#7F7F7F"/>
<rect x="93.40" y="630.48" width="80.50" height="15.82" fill="#FBE3A3"/>
<rect x="173.30" y="630.48" width="83.30" height="15.82" fill="#FDF1D2"/>
<rect x="256.00" y="630.48" width="75.60" height="15.82" fill="#FBE3A3"/>
<rect x="331.00" y="630.48" width="68.10" height="15.82" fill="#FDF1D2"/>
<rect x="398.50" y="630.48" width="51.60" height="15.82" fill="#F6C245"/>
<rect x="449.50" y="630.48" width="51.50" height="15.82" fill="#FFFFFF"/>
<rect x="500.40" y="630.48" width="51.90" height="15.82" fill="#7F7F7F"/>
<rect x="93.40" y="645.70" width="80.50" height="15.82" fill="#FBE3A3"/>
<rect x="173.30" y="645.70" width="83.30" height="15.82" fill="#FBE3A3"/>
<rect x="256.00" y="645.70" width="75.60" height="15.82" fill="#F9D77A"/>
<rect x="331.00" y="645.70" width="68.10" height="15.82" fill="#FDF1D2"/>
<rect x="398.50" y="645.70" width="51.60" height="15.82" fill="#F9D77A"/>
<rect x="449.50" y="645.70" width="51.50" height="15.82" fill="#FDF1D2"/>
<rect x="500.40" y="645.70" width="51.90" height="15.82" fill="#7F7F7F"/>
<rect x="93.40" y="660.92" width="80.50" height="15.82" fill="#FBE3A3"/>
<rect x="173.30" y="660.92" width="83.30" height="15.82" fill="#FDF1D2"/>
<rect x="256.00" y="660.92" width="75.60" height="15.82" fill="#FBE3A3"/>
<rect x="331.00" y="660.92" width="68.10" height="15.82" fill="#FFFFFF"/>
<rect x="398.50" y="660.92" width="51.60" height="15.82" fill="#F9D77A"/>
<rect x="449.50" y="660.92" width="51.50" height="15.82" fill="#FDF1D2"/>
<rect x="500.40" y="660.92" width="51.90" height="15.82" fill="#7F7F7F"/>
<rect x="93.40" y="676.14" width="80.50" height="15.82" fill="#FBE3A3"/>
<rect x="173.30" y="676.14" width="83.30" height="15.82" fill="#FDF1D2"/>
<rect x="256.00" y="676.14" width="75.60" height="15.82" fill="#F9D77A"/>
<rect x="331.00" y="676.14" width="68.10" height="15.82" fill="#FDF1D2"/>
<rect x="398.50" y="676.14" width="51.60" height="15.82" fill="#F9D77A"/>
<rect x="449.50" y="676.14" width="51.50" height="15.82" fill="#FDF1D2"/>
<rect x="500.40" y="676.14" width="51.90" height="15.82" fill="#7F7F7F"/>
<rect x="93.40" y="691.36" width="80.50" height="15.82" fill="#FBE3A3"/>
<rect x="173.30" y="691.36" width="83.30" height="15.82" fill="#FDF1D2"/>
<rect x="256.00" y="691.36" width="75.60" height="15.82" fill="#F9D77A"/>
<rect x="331.00" y="691.36" width="68.10" height="15.82" fill="#FDF1D2"/>
<rect x="398.50" y="691.36" width="51.60" height="15.82" fill="#F9D77A"/>
<rect x="449.50" y="691.36" width="51.50" height="15.82" fill="#7F7F7F"/>
<rect x="500.40" y="691.36" width="51.90" height="15.82" fill="#7F7F7F"/>
<rect x="93.40" y="706.58" width="80.50" height="15.82" fill="#FBE3A3"/>
<rect x="173.30" y="706.58" width="83.30" height="15.82" fill="#FDF1D2"/>
<rect x="256.00" y="706.58" width="75.60" height="15.82" fill="#F9D77A"/>
<rect x="331.00" y="706.58" width="68.10" height="15.82" fill="#FDF1D2"/>
<rect x="398.50" y="706.58" width="51.60" height="15.82" fill="#F9D77A"/>
<rect x="449.50" y="706.58" width="51.50" height="15.82" fill="#7F7F7F"/>
<rect x="500.40" y="706.58" width="51.90" height="15.82" fill="#7F7F7F"/>
<rect x="93.40" y="721.80" width="80.50" height="15.82" fill="#FBE3A3"/>
<rect x="173.30" y="721.80" width="83.30" height="15.82" fill="#FDF1D2"/>
<rect x="256.00" y="721.80" width="75.60" height="15.82" fill="#F9D77A"/>
<rect x="331.00" y="721.80" width="68.10" height="15.82" fill="#FDF1D2"/>
<rect x="398.50" y="721.80" width="51.60" height="15.82" fill="#F9D77A"/>
<rect x="449.50" y="721.80" width="51.50" height="15.82" fill="#7F7F7F"/>
<rect x="500.40" y="721.80" width="51.90" height="15.82" fill="#7F7F7F"/>
<rect x="93.40" y="737.02" width="80.50" height="15.82" fill="#FBE3A3"/>
<rect x="173.30" y="737.02" width="83.30" height="15.82" fill="#FDF1D2"/>
<rect x="256.00" y="737.02" width="75.60" height="15.82" fill="#F9D77A"/>
<rect x="331.00" y="737.02" width="68.10" height="15.82" fill="#FDF1D2"/>
<rect x="398.50" y="737.02" width="51.60" height="15.82" fill="#F9D77A"/>
<rect x="449.50" y="737.02" width="51.50" height="15.82" fill="#7F7F7F"/>
<rect x="500.40" y="737.02" width="51.90" height="15.82" fill="#7F7F7F"/>
<rect x="93.40" y="752.24" width="80.50" height="15.82" fill="#FBE3A3"/>
<rect x="173.30" y="752.24" width="83.30" height="15.82" fill="#FDF1D2"/>
<rect x="256.00" y="752.24" width="75.60" height="15.82" fill="#F9D77A"/>
<rect x="331.00" y="752.24" width="68.10" height="15.82" fill="#FDF1D2"/>
<rect x="398.50" y="752.24" width="51.60" height="15.82" fill="#F9D77A"/>
<rect x="449.50" y="752.24" width="51.50" height="15.82" fill="#7F7F7F"/>
<rect x="500.40" y="752.24" width="51.90" height="15.82" fill="#7F7F7F"/>
<rect x="93.40" y="767.46" width="80.50" height="15.82" fill="#FBE3A3"/>
<rect x="173.30" y="767.46" width="83.30" height="15.82" fill="#FDF1D2"/>
<rect x="256.00" y="767.46" width="75.60" height="15.82" fill="#F9D77A"/>
<rect x="331.00" y="767.46" width="68.10" height="15.82" fill="#FDF1D2"/>
<rect x="398.50" y="767.46" width="51.60" height="15.82" fill="#F9D77A"/>
<rect x="449.50" y="767.46" width="51.50" height="15.82" fill="#7F7F7F"/>
<rect x="500.40" y="767.46" width="51.90" height="15.82" fill="#7F7F7F"/>
<rect x="93.40" y="782.68" width="80.50" height="15.82" fill="#FBE3A3"/>
<rect x="173.30" y="782.68" width="83.30" height="15.82" fill="#FDF1D2"/>
<rect x="256.00" y="782.68" width="75.60" height="15.82" fill="#F9D77A"/>
<rect x="331.00" y="782.68" width="68.10" height="15.82" fill="#FDF1D2"/>
<rect x="398.50" y="782.68" width="51.60" height="15.82" fill="#F9D77A"/>
<rect x="449.50" y="782.68" width="51.50" height="15.82" fill="#7F7F7F"/>
<rect x="500.40" y="782.68" width="51.90" height="15.82" fill="#7F7F7F"/>
<rect x="93.40" y="797.90" width="80.50" height="15.82" fill="#F6C245"/>
<rect x="173.30" y="797.90" width="83.30" height="15.82" fill="#F9D77A"/>
<rect x="256.00" y="797.90" width="75.60" height="15.82" fill="#F6C245"/>
<rect x="331.00" y="797.90" width="68.10" height="15.82" fill="#FBE3A3"/>
<rect x="398.50" y="797.90" width="51.60" height="15.82" fill="#F9D77A"/>
<rect x="449.50" y="797.90" width="51.50" height="15.82" fill="#7F7F7F"/>
<rect x="500.40" y="797.90" width="51.90" height="15.82" fill="#7F7F7F"/>
<rect x="93.40" y="813.12" width="80.50" height="15.82" fill="#F9D77A"/>
<rect x="173.30" y="813.12" width="83.30" height="15.82" fill="#FBE3A3"/>
<rect x="256.00" y="813.12" width="75.60" height="15.82" fill="#F9D77A"/>
<rect x="331.00" y="813.12" width="68.10" height="15.82" fill="#F9D77A"/>
<rect x="398.50" y="813.12" width="51.60" height="15.82" fill="#F9D77A"/>
<rect x="449.50" y="813.12" width="51.50" height="15.82" fill="#7F7F7F"/>
<rect x="500.40" y="813.12" width="51.90" height="15.82" fill="#7F7F7F"/>
<rect x="93.40" y="828.34" width="80.50" height="15.82" fill="#F9D77A"/>
<rect x="173.30" y="828.34" width="83.30" height="15.82" fill="#F6C245"/>
<rect x="256.00" y="828.34" width="75.60" height="15.82" fill="#F9D77A"/>
<rect x="331.00" y="828.34" width="68.10" height="15.82" fill="#FDF1D2"/>
<rect x="398.50" y="828.34" width="51.60" height="15.82" fill="#F6C245"/>
<rect x="449.50" y="828.34" width="51.50" height="15.82" fill="#7F7F7F"/>
<rect x="500.40" y="828.34" width="51.90" height="15.82" fill="#7F7F7F"/>
<rect x="93.40" y="843.56" width="80.50" height="15.82" fill="#F9D77A"/>
<rect x="173.30" y="843.56" width="83.30" height="15.82" fill="#FDF1D2"/>
<rect x="256.00" y="843.56" width="75.60" height="15.82" fill="#F9D77A"/>
<rect x="331.00" y="843.56" width="68.10" height="15.82" fill="#FDF1D2"/>
<rect x="398.50" y="843.56" width="51.60" height="15.82" fill="#F9D77A"/>
<rect x="449.50" y="843.56" width="51.50" height="15.82" fill="#F6C245"/>
<rect x="500.40" y="843.56" width="51.90" height="15.82" fill="#7F7F7F"/>
<rect x="93.40" y="858.78" width="80.50" height="15.82" fill="#FBE3A3"/>
<rect x="173.30" y="858.78" width="83.30" height="15.82" fill="#FBE3A3"/>
<rect x="256.00" y="858.78" width="75.60" height="15.82" fill="#F9D77A"/>
<rect x="331.00" y="858.78" width="68.10" height="15.82" fill="#FFFFFF"/>
<rect x="398.50" y="858.78" width="51.60" height="15.82" fill="#F9D77A"/>
<rect x="449.50" y="858.78" width="51.50" height="15.82" fill="#7F7F7F"/>
<rect x="500.40" y="858.78" width="51.90" height="15.82" fill="#7F7F7F"/>
<rect x="93.40" y="874.00" width="80.50" height="15.82" fill="#7F7F7F"/>
<rect x="173.30" y="874.00" width="83.30" height="15.82" fill="#7F7F7F"/>
<rect x="256.00" y="874.00" width="75.60" height="15.82" fill="#F6C245"/>
<rect x="331.00" y="874.00" width="68.10" height="15.82" fill="#E2813F"/>
<rect x="398.50" y="874.00" width="51.60" height="15.82" fill="#7F7F7F"/>
<rect x="449.50" y="874.00" width="51.50" height="15.82" fill="#7F7F7F"/>
<rect x="500.40" y="874.00" width="51.90" height="15.82" fill="#F6C245"/>
<rect x="28.40" y="462.60" width="523.30" height="426.62" fill="none" stroke="#3a3a3a" stroke-width="1"/>
<line x1="93.40" y1="478.00" x2="551.70" y2="478.00" stroke="#4a4a4a" stroke-width="1" />
<line x1="28.40" y1="493.50" x2="551.70" y2="493.50" stroke="#4a4a4a" stroke-width="1" />
<line x1="28.40" y1="508.72" x2="551.70" y2="508.72" stroke="#4a4a4a" stroke-width="1" />
<line x1="28.40" y1="523.94" x2="551.70" y2="523.94" stroke="#4a4a4a" stroke-width="1" />
<line x1="28.40" y1="539.16" x2="551.70" y2="539.16" stroke="#4a4a4a" stroke-width="1" />
<line x1="28.40" y1="554.38" x2="551.70" y2="554.38" stroke="#4a4a4a" stroke-width="1" />
<line x1="28.40" y1="569.60" x2="551.70" y2="569.60" stroke="#111" stroke-width="1.4" />
<line x1="28.40" y1="584.82" x2="551.70" y2="584.82" stroke="#4a4a4a" stroke-width="1" />
<line x1="28.40" y1="600.04" x2="551.70" y2="600.04" stroke="#4a4a4a" stroke-width="1" />
<line x1="28.40" y1="615.26" x2="551.70" y2="615.26" stroke="#4a4a4a" stroke-width="1" />
<line x1="28.40" y1="630.48" x2="551.70" y2="630.48" stroke="#4a4a4a" stroke-width="1" />
<line x1="28.40" y1="645.70" x2="551.70" y2="645.70" stroke="#4a4a4a" stroke-width="1" />
<line x1="28.40" y1="660.92" x2="398.50" y2="660.92" stroke="#4a4a4a" stroke-width="1" />
<line x1="449.50" y1="660.92" x2="551.70" y2="660.92" stroke="#4a4a4a" stroke-width="1" />
<line x1="28.40" y1="676.14" x2="398.50" y2="676.14" stroke="#4a4a4a" stroke-width="1" />
<line x1="449.50" y1="676.14" x2="551.70" y2="676.14" stroke="#4a4a4a" stroke-width="1" />
<line x1="28.40" y1="691.36" x2="398.50" y2="691.36" stroke="#4a4a4a" stroke-width="1" />
<line x1="449.50" y1="691.36" x2="551.70" y2="691.36" stroke="#4a4a4a" stroke-width="1" />
<line x1="28.40" y1="706.58" x2="398.50" y2="706.58" stroke="#4a4a4a" stroke-width="1" />
<line x1="449.50" y1="706.58" x2="551.70" y2="706.58" stroke="#4a4a4a" stroke-width="1" />
<line x1="28.40" y1="721.80" x2="398.50" y2="721.80" stroke="#4a4a4a" stroke-width="1" />
<line x1="449.50" y1="721.80" x2="551.70" y2="721.80" stroke="#4a4a4a" stroke-width="1" />
<line x1="28.40" y1="737.02" x2="398.50" y2="737.02" stroke="#4a4a4a" stroke-width="1" />
<line x1="449.50" y1="737.02" x2="551.70" y2="737.02" stroke="#4a4a4a" stroke-width="1" />
<line x1="28.40" y1="752.24" x2="398.50" y2="752.24" stroke="#4a4a4a" stroke-width="1" />
<line x1="449.50" y1="752.24" x2="551.70" y2="752.24" stroke="#4a4a4a" stroke-width="1" />
<line x1="28.40" y1="767.46" x2="398.50" y2="767.46" stroke="#4a4a4a" stroke-width="1" />
<line x1="449.50" y1="767.46" x2="551.70" y2="767.46" stroke="#4a4a4a" stroke-width="1" />
<line x1="28.40" y1="782.68" x2="551.70" y2="782.68" stroke="#4a4a4a" stroke-width="1" />
<line x1="28.40" y1="797.90" x2="551.70" y2="797.90" stroke="#4a4a4a" stroke-width="1" />
<line x1="28.40" y1="813.12" x2="551.70" y2="813.12" stroke="#4a4a4a" stroke-width="1" />
<line x1="28.40" y1="828.34" x2="551.70" y2="828.34" stroke="#4a4a4a" stroke-width="1" />
<line x1="28.40" y1="843.56" x2="551.70" y2="843.56" stroke="#4a4a4a" stroke-width="1" />
<line x1="28.40" y1="858.78" x2="551.70" y2="858.78" stroke="#4a4a4a" stroke-width="1" />
<line x1="28.40" y1="874.00" x2="551.70" y2="874.00" stroke="#4a4a4a" stroke-width="1" />
<line x1="93.40" y1="462.60" x2="93.40" y2="889.22" stroke="#4a4a4a" stroke-width="1" />
<line x1="173.30" y1="478.00" x2="173.30" y2="889.22" stroke="#4a4a4a" stroke-width="1" />
<line x1="256.00" y1="478.00" x2="256.00" y2="889.22" stroke="#4a4a4a" stroke-width="1" />
<line x1="331.00" y1="478.00" x2="331.00" y2="889.22" stroke="#4a4a4a" stroke-width="1" />
<line x1="398.50" y1="478.00" x2="398.50" y2="645.70" stroke="#4a4a4a" stroke-width="1" />
<line x1="398.50" y1="782.68" x2="398.50" y2="889.22" stroke="#4a4a4a" stroke-width="1" />
<line x1="449.50" y1="478.00" x2="449.50" y2="645.70" stroke="#4a4a4a" stroke-width="1" />
<line x1="449.50" y1="782.68" x2="449.50" y2="889.22" stroke="#4a4a4a" stroke-width="1" />
<line x1="500.40" y1="478.00" x2="500.40" y2="889.22" stroke="#4a4a4a" stroke-width="1" />
<text transform="translate(133.35 490.10) scale(0.905 1)" font-size="10.3" font-weight="bold" text-anchor="middle" fill="#111" stroke="#111" stroke-width="0.2">H11B11_Brii-196</text>
<text transform="translate(214.65 490.10) scale(0.905 1)" font-size="10.3" font-weight="bold" text-anchor="middle" fill="#111" stroke="#111" stroke-width="0.2">Brii-196_H11B11</text>
<text transform="translate(293.50 490.10) scale(0.905 1)" font-size="10.3" font-weight="bold" text-anchor="middle" fill="#111" stroke="#111" stroke-width="0.2">H11B11_m336</text>
<text transform="translate(364.75 490.10) scale(0.905 1)" font-size="10.3" font-weight="bold" text-anchor="middle" fill="#111" stroke="#111" stroke-width="0.2">m336_H11B11</text>
<text transform="translate(424.00 490.10) scale(0.905 1)" font-size="10.3" font-weight="bold" text-anchor="middle" fill="#111" stroke="#111" stroke-width="0.2">H11B11</text>
<text transform="translate(474.95 490.10) scale(0.905 1)" font-size="10.3" font-weight="bold" text-anchor="middle" fill="#111" stroke="#111" stroke-width="0.2">Brii-196</text>
<text transform="translate(526.05 490.10) scale(0.905 1)" font-size="10.3" font-weight="bold" text-anchor="middle" fill="#111" stroke="#111" stroke-width="0.2">m336</text>
<text x="295.6" y="472.9" font-size="9.4" font-weight="bold" fill="#111">IC<tspan font-size="6.6" dy="1.6">50</tspan><tspan dy="-1.6">(μg/ml</tspan><tspan font-weight="normal" dx="1.2">)</tspan></text>
<text transform="translate(61.30 505.97) scale(0.875 1)" font-size="10.6" font-weight="bold" text-anchor="middle" fill="#111" stroke="#111" stroke-width="0.2">WT</text>
<text transform="translate(132.65 505.87) scale(0.875 1)" font-size="10.3" font-weight="bold" text-anchor="middle" fill="#111" stroke="#111" stroke-width="0.2">0.040</text>
<text transform="translate(213.95 505.87) scale(0.875 1)" font-size="10.3" font-weight="bold" text-anchor="middle" fill="#111" stroke="#111" stroke-width="0.2">0.005</text>
<text transform="translate(292.80 505.87) scale(0.875 1)" font-size="10.3" font-weight="bold" text-anchor="middle" fill="#111" stroke="#111" stroke-width="0.2">0.052</text>
<text transform="translate(364.05 505.87) scale(0.875 1)" font-size="10.3" font-weight="bold" text-anchor="middle" fill="#111" stroke="#111" stroke-width="0.2">0.545</text>
<text transform="translate(423.30 505.87) scale(0.875 1)" font-size="10.3" font-weight="bold" text-anchor="middle" fill="#111" stroke="#111" stroke-width="0.2">0.013</text>
<text transform="translate(474.25 505.87) scale(0.875 1)" font-size="10.3" font-weight="bold" text-anchor="middle" fill="#111" stroke="#111" stroke-width="0.2">0.013</text>
<text transform="translate(525.35 505.87) scale(0.875 1)" font-size="10.3" font-weight="bold" text-anchor="middle" fill="#111" stroke="#111" stroke-width="0.2">&gt;10</text>
<text transform="translate(61.30 521.19) scale(0.875 1)" font-size="10.6" font-weight="bold" text-anchor="middle" fill="#111" stroke="#111" stroke-width="0.2">B.1.1.7</text>
<text transform="translate(132.65 521.09) scale(0.875 1)" font-size="10.3" font-weight="bold" text-anchor="middle" fill="#111" stroke="#111" stroke-width="0.2">0.320</text>
<text transform="translate(213.95 521.09) scale(0.875 1)" font-size="10.3" font-weight="bold" text-anchor="middle" fill="#111" stroke="#111" stroke-width="0.2">0.004</text>
<text transform="translate(292.80 521.09) scale(0.875 1)" font-size="10.3" font-weight="bold" text-anchor="middle" fill="#111" stroke="#111" stroke-width="0.2">0.165</text>
<text transform="translate(364.05 521.09) scale(0.875 1)" font-size="10.3" font-weight="bold" text-anchor="middle" fill="#111" stroke="#111" stroke-width="0.2">0.815</text>
<text transform="translate(423.30 521.09) scale(0.875 1)" font-size="10.3" font-weight="bold" text-anchor="middle" fill="#111" stroke="#111" stroke-width="0.2">0.013</text>
<text transform="translate(474.25 521.09) scale(0.875 1)" font-size="10.3" font-weight="bold" text-anchor="middle" fill="#111" stroke="#111" stroke-width="0.2">0.003</text>
<text transform="translate(525.35 521.09) scale(0.875 1)" font-size="10.3" font-weight="bold" text-anchor="middle" fill="#111" stroke="#111" stroke-width="0.2">&gt;10</text>
<text transform="translate(61.30 536.41) scale(0.875 1)" font-size="10.6" font-weight="bold" text-anchor="middle" fill="#111" stroke="#111" stroke-width="0.2">B.1.351</text>
<text transform="translate(132.65 536.31) scale(0.875 1)" font-size="10.3" font-weight="bold" text-anchor="middle" fill="#111" stroke="#111" stroke-width="0.2">0.170</text>
<text transform="translate(213.95 536.31) scale(0.875 1)" font-size="10.3" font-weight="bold" text-anchor="middle" fill="#111" stroke="#111" stroke-width="0.2">0.001</text>
<text transform="translate(292.80 536.31) scale(0.875 1)" font-size="10.3" font-weight="bold" text-anchor="middle" fill="#111" stroke="#111" stroke-width="0.2">0.102</text>
<text transform="translate(364.05 536.31) scale(0.875 1)" font-size="10.3" font-weight="bold" text-anchor="middle" fill="#111" stroke="#111" stroke-width="0.2">1.155</text>
<text transform="translate(423.30 536.31) scale(0.875 1)" font-size="10.3" font-weight="bold" text-anchor="middle" fill="#111" stroke="#111" stroke-width="0.2">0.006</text>
<text transform="translate(474.25 536.31) scale(0.875 1)" font-size="10.3" font-weight="bold" text-anchor="middle" fill="#111" stroke="#111" stroke-width="0.2">0.007</text>
<text transform="translate(525.35 536.31) scale(0.875 1)" font-size="10.3" font-weight="bold" text-anchor="middle" fill="#111" stroke="#111" stroke-width="0.2">&gt;10</text>
<text transform="translate(61.30 551.63) scale(0.875 1)" font-size="10.6" font-weight="bold" text-anchor="middle" fill="#111" stroke="#111" stroke-width="0.2">P.1</text>
<text transform="translate(132.65 551.53) scale(0.875 1)" font-size="10.3" font-weight="bold" text-anchor="middle" fill="#111" stroke="#111" stroke-width="0.2">0.010</text>
<text transform="translate(213.95 551.53) scale(0.875 1)" font-size="10.3" font-weight="bold" text-anchor="middle" fill="#111" stroke="#111" stroke-width="0.2">0.001</text>
<text transform="translate(292.80 551.53) scale(0.875 1)" font-size="10.3" font-weight="bold" text-anchor="middle" fill="#111" stroke="#111" stroke-width="0.2">0.106</text>
<text transform="translate(364.05 551.53) scale(0.875 1)" font-size="10.3" font-weight="bold" text-anchor="middle" fill="#111" stroke="#111" stroke-width="0.2">0.889</text>
<text transform="translate(423.30 551.53) scale(0.875 1)" font-size="10.3" font-weight="bold" text-anchor="middle" fill="#111" stroke="#111" stroke-width="0.2">0.017</text>
<text transform="translate(474.25 551.53) scale(0.875 1)" font-size="10.3" font-weight="bold" text-anchor="middle" fill="#111" stroke="#111" stroke-width="0.2">0.002</text>
<text transform="translate(525.35 551.53) scale(0.875 1)" font-size="10.3" font-weight="bold" text-anchor="middle" fill="#111" stroke="#111" stroke-width="0.2">&gt;10</text>
<text transform="translate(61.30 566.85) scale(0.875 1)" font-size="10.6" font-weight="bold" text-anchor="middle" fill="#111" stroke="#111" stroke-width="0.2">B.1.617.2</text>
<text transform="translate(132.65 566.75) scale(0.875 1)" font-size="10.3" font-weight="bold" text-anchor="middle" fill="#111" stroke="#111" stroke-width="0.2">0.020</text>
<text transform="translate(213.95 566.75) scale(0.875 1)" font-size="10.3" font-weight="bold" text-anchor="middle" fill="#111" stroke="#111" stroke-width="0.2">0.003</text>
<text transform="translate(292.80 566.75) scale(0.875 1)" font-size="10.3" font-weight="bold" text-anchor="middle" fill="#111" stroke="#111" stroke-width="0.2">0.070</text>
<text transform="translate(364.05 566.75) scale(0.875 1)" font-size="10.3" font-weight="bold" text-anchor="middle" fill="#111" stroke="#111" stroke-width="0.2">0.825</text>
<text transform="translate(423.30 566.75) scale(0.875 1)" font-size="10.3" font-weight="bold" text-anchor="middle" fill="#111" stroke="#111" stroke-width="0.2">0.008</text>
<text transform="translate(474.25 566.75) scale(0.875 1)" font-size="10.3" font-weight="bold" text-anchor="middle" fill="#111" stroke="#111" stroke-width="0.2">0.005</text>
<text transform="translate(525.35 566.75) scale(0.875 1)" font-size="10.3" font-weight="bold" text-anchor="middle" fill="#111" stroke="#111" stroke-width="0.2">&gt;10</text>
<text transform="translate(61.30 582.07) scale(0.875 1)" font-size="10.6" font-weight="bold" text-anchor="middle" fill="#111" stroke="#111" stroke-width="0.2">BA.1</text>
<text transform="translate(132.65 581.97) scale(0.875 1)" font-size="10.3" font-weight="bold" text-anchor="middle" fill="#111" stroke="#111" stroke-width="0.2">0.074</text>
<text transform="translate(213.95 581.97) scale(0.875 1)" font-size="10.3" font-weight="bold" text-anchor="middle" fill="#111" stroke="#111" stroke-width="0.2">0.124</text>
<text transform="translate(292.80 581.97) scale(0.875 1)" font-size="10.3" font-weight="bold" text-anchor="middle" fill="#111" stroke="#111" stroke-width="0.2">0.034</text>
<text transform="translate(364.05 581.97) scale(0.875 1)" font-size="10.3" font-weight="bold" text-anchor="middle" fill="#111" stroke="#111" stroke-width="0.2">0.129</text>
<text transform="translate(423.30 581.97) scale(0.875 1)" font-size="10.3" font-weight="bold" text-anchor="middle" fill="#111" stroke="#111" stroke-width="0.2">0.008</text>
<text transform="translate(474.25 581.97) scale(0.875 1)" font-size="10.3" font-weight="bold" text-anchor="middle" fill="#111" stroke="#111" stroke-width="0.2">3.754</text>
<text transform="translate(525.35 581.97) scale(0.875 1)" font-size="10.3" font-weight="bold" text-anchor="middle" fill="#111" stroke="#111" stroke-width="0.2">&gt;10</text>
<text transform="translate(61.30 597.29) scale(0.875 1)" font-size="10.6" font-weight="bold" text-anchor="middle" fill="#111" stroke="#111" stroke-width="0.2">BA.2</text>
<text transform="translate(132.65 597.19) scale(0.875 1)" font-size="10.3" font-weight="bold" text-anchor="middle" fill="#111" stroke="#111" stroke-width="0.2">0.160</text>
<text transform="translate(213.95 597.19) scale(0.875 1)" font-size="10.3" font-weight="bold" text-anchor="middle" fill="#111" stroke="#111" stroke-width="0.2">0.239</text>
<text transform="translate(292.80 597.19) scale(0.875 1)" font-size="10.3" font-weight="bold" text-anchor="middle" fill="#111" stroke="#111" stroke-width="0.2">0.086</text>
<text transform="translate(364.05 597.19) scale(0.875 1)" font-size="10.3" font-weight="bold" text-anchor="middle" fill="#111" stroke="#111" stroke-width="0.2">1.125</text>
<text transform="translate(423.30 597.19) scale(0.875 1)" font-size="10.3" font-weight="bold" text-anchor="middle" fill="#111" stroke="#111" stroke-width="0.2">0.048</text>
<text transform="translate(474.25 597.19) scale(0.875 1)" font-size="10.3" font-weight="bold" text-anchor="middle" fill="#111" stroke="#111" stroke-width="0.2">2.573</text>
<text transform="translate(525.35 597.19) scale(0.875 1)" font-size="10.3" font-weight="bold" text-anchor="middle" fill="#111" stroke="#111" stroke-width="0.2">&gt;10</text>
<text transform="translate(61.30 612.51) scale(0.875 1)" font-size="10.6" font-weight="bold" text-anchor="middle" fill="#111" stroke="#111" stroke-width="0.2">BA.2.12.1</text>
<text transform="translate(132.65 612.41) scale(0.875 1)" font-size="10.3" font-weight="bold" text-anchor="middle" fill="#111" stroke="#111" stroke-width="0.2">0.145</text>
<text transform="translate(213.95 612.41) scale(0.875 1)" font-size="10.3" font-weight="bold" text-anchor="middle" fill="#111" stroke="#111" stroke-width="0.2">0.599</text>
<text transform="translate(292.80 612.41) scale(0.875 1)" font-size="10.3" font-weight="bold" text-anchor="middle" fill="#111" stroke="#111" stroke-width="0.2">0.086</text>
<text transform="translate(364.05 612.41) scale(0.875 1)" font-size="10.3" font-weight="bold" text-anchor="middle" fill="#111" stroke="#111" stroke-width="0.2">0.591</text>
<text transform="translate(423.30 612.41) scale(0.875 1)" font-size="10.3" font-weight="bold" text-anchor="middle" fill="#111" stroke="#111" stroke-width="0.2">0.008</text>
<text transform="translate(474.25 612.41) scale(0.875 1)" font-size="10.3" font-weight="bold" text-anchor="middle" fill="#111" stroke="#111" stroke-width="0.2">0.465</text>
<text transform="translate(525.35 612.41) scale(0.875 1)" font-size="10.3" font-weight="bold" text-anchor="middle" fill="#111" stroke="#111" stroke-width="0.2">&gt;10</text>
<text transform="translate(61.30 627.73) scale(0.875 1)" font-size="10.6" font-weight="bold" text-anchor="middle" fill="#111" stroke="#111" stroke-width="0.2">BA.2.75</text>
<text transform="translate(132.65 627.63) scale(0.875 1)" font-size="10.3" font-weight="bold" text-anchor="middle" fill="#111" stroke="#111" stroke-width="0.2">0.228</text>
<text transform="translate(213.95 627.63) scale(0.875 1)" font-size="10.3" font-weight="bold" text-anchor="middle" fill="#111" stroke="#111" stroke-width="0.2">0.459</text>
<text transform="translate(292.80 627.63) scale(0.875 1)" font-size="10.3" font-weight="bold" text-anchor="middle" fill="#111" stroke="#111" stroke-width="0.2">0.183</text>
<text transform="translate(364.05 627.63) scale(0.875 1)" font-size="10.3" font-weight="bold" text-anchor="middle" fill="#111" stroke="#111" stroke-width="0.2">2.163</text>
<text transform="translate(423.30 627.63) scale(0.875 1)" font-size="10.3" font-weight="bold" text-anchor="middle" fill="#111" stroke="#111" stroke-width="0.2">0.038</text>
<text transform="translate(474.25 627.63) scale(0.875 1)" font-size="10.3" font-weight="bold" text-anchor="middle" fill="#111" stroke="#111" stroke-width="0.2">1.687</text>
<text transform="translate(525.35 627.63) scale(0.875 1)" font-size="10.3" font-weight="bold" text-anchor="middle" fill="#111" stroke="#111" stroke-width="0.2">&gt;10</text>
<text transform="translate(61.30 642.95) scale(0.875 1)" font-size="10.6" font-weight="bold" text-anchor="middle" fill="#111" stroke="#111" stroke-width="0.2">BA.3</text>
<text transform="translate(132.65 642.85) scale(0.875 1)" font-size="10.3" font-weight="bold" text-anchor="middle" fill="#111" stroke="#111" stroke-width="0.2">0.120</text>
<text transform="translate(213.95 642.85) scale(0.875 1)" font-size="10.3" font-weight="bold" text-anchor="middle" fill="#111" stroke="#111" stroke-width="0.2">0.290</text>
<text transform="translate(292.80 642.85) scale(0.875 1)" font-size="10.3" font-weight="bold" text-anchor="middle" fill="#111" stroke="#111" stroke-width="0.2">0.102</text>
<text transform="translate(364.05 642.85) scale(0.875 1)" font-size="10.3" font-weight="bold" text-anchor="middle" fill="#111" stroke="#111" stroke-width="0.2">0.717</text>
<text transform="translate(423.30 642.85) scale(0.875 1)" font-size="10.3" font-weight="bold" text-anchor="middle" fill="#111" stroke="#111" stroke-width="0.2">0.009</text>
<text transform="translate(474.25 642.85) scale(0.875 1)" font-size="10.3" font-weight="bold" text-anchor="middle" fill="#111" stroke="#111" stroke-width="0.2">2.716</text>
<text transform="translate(525.35 642.85) scale(0.875 1)" font-size="10.3" font-weight="bold" text-anchor="middle" fill="#111" stroke="#111" stroke-width="0.2">&gt;10</text>
<text transform="translate(61.30 658.17) scale(0.875 1)" font-size="10.6" font-weight="bold" text-anchor="middle" fill="#111" stroke="#111" stroke-width="0.2">BA.5</text>
<text transform="translate(132.65 658.07) scale(0.875 1)" font-size="10.3" font-weight="bold" text-anchor="middle" fill="#111" stroke="#111" stroke-width="0.2">0.143</text>
<text transform="translate(213.95 658.07) scale(0.875 1)" font-size="10.3" font-weight="bold" text-anchor="middle" fill="#111" stroke="#111" stroke-width="0.2">0.162</text>
<text transform="translate(292.80 658.07) scale(0.875 1)" font-size="10.3" font-weight="bold" text-anchor="middle" fill="#111" stroke="#111" stroke-width="0.2">0.077</text>
<text transform="translate(364.05 658.07) scale(0.875 1)" font-size="10.3" font-weight="bold" text-anchor="middle" fill="#111" stroke="#111" stroke-width="0.2">0.902</text>
<text transform="translate(423.30 658.57) scale(0.875 1)" font-size="10.3" font-weight="bold" text-anchor="middle" fill="#111" stroke="#111" stroke-width="0.2">0.019</text>
<text transform="translate(474.25 658.07) scale(0.875 1)" font-size="10.3" font-weight="bold" text-anchor="middle" fill="#111" stroke="#111" stroke-width="0.2">0.757</text>
<text transform="translate(525.35 658.07) scale(0.875 1)" font-size="10.3" font-weight="bold" text-anchor="middle" fill="#111" stroke="#111" stroke-width="0.2">&gt;10</text>
<text transform="translate(61.30 673.39) scale(0.875 1)" font-size="10.6" font-weight="bold" text-anchor="middle" fill="#111" stroke="#111" stroke-width="0.2">BF.7</text>
<text transform="translate(132.65 673.29) scale(0.875 1)" font-size="10.3" font-weight="bold" text-anchor="middle" fill="#111" stroke="#111" stroke-width="0.2">0.108</text>
<text transform="translate(213.95 673.29) scale(0.875 1)" font-size="10.3" font-weight="bold" text-anchor="middle" fill="#111" stroke="#111" stroke-width="0.2">0.459</text>
<text transform="translate(292.80 673.29) scale(0.875 1)" font-size="10.3" font-weight="bold" text-anchor="middle" fill="#111" stroke="#111" stroke-width="0.2">0.113</text>
<text transform="translate(364.05 673.29) scale(0.875 1)" font-size="10.3" font-weight="bold" text-anchor="middle" fill="#111" stroke="#111" stroke-width="0.2">1.126</text>
<text transform="translate(423.30 673.79) scale(0.875 1)" font-size="10.3" font-weight="bold" text-anchor="middle" fill="#111" stroke="#111" stroke-width="0.2">0.057</text>
<text transform="translate(474.25 673.29) scale(0.875 1)" font-size="10.3" font-weight="bold" text-anchor="middle" fill="#111" stroke="#111" stroke-width="0.2">0.7</text>
<text transform="translate(525.35 673.29) scale(0.875 1)" font-size="10.3" font-weight="bold" text-anchor="middle" fill="#111" stroke="#111" stroke-width="0.2">&gt;10</text>
<text transform="translate(61.30 688.61) scale(0.875 1)" font-size="10.6" font-weight="bold" text-anchor="middle" fill="#111" stroke="#111" stroke-width="0.2">BN.1</text>
<text transform="translate(132.65 688.51) scale(0.875 1)" font-size="10.3" font-weight="bold" text-anchor="middle" fill="#111" stroke="#111" stroke-width="0.2">0.151</text>
<text transform="translate(213.95 688.51) scale(0.875 1)" font-size="10.3" font-weight="bold" text-anchor="middle" fill="#111" stroke="#111" stroke-width="0.2">0.440</text>
<text transform="translate(292.80 688.51) scale(0.875 1)" font-size="10.3" font-weight="bold" text-anchor="middle" fill="#111" stroke="#111" stroke-width="0.2">0.088</text>
<text transform="translate(364.05 688.51) scale(0.875 1)" font-size="10.3" font-weight="bold" text-anchor="middle" fill="#111" stroke="#111" stroke-width="0.2">0.768</text>
<text transform="translate(423.30 689.01) scale(0.875 1)" font-size="10.3" font-weight="bold" text-anchor="middle" fill="#111" stroke="#111" stroke-width="0.2">0.036</text>
<text transform="translate(474.25 688.51) scale(0.875 1)" font-size="10.3" font-weight="bold" text-anchor="middle" fill="#111" stroke="#111" stroke-width="0.2">0.888</text>
<text transform="translate(525.35 688.51) scale(0.875 1)" font-size="10.3" font-weight="bold" text-anchor="middle" fill="#111" stroke="#111" stroke-width="0.2">&gt;10</text>
<text transform="translate(61.30 703.83) scale(0.875 1)" font-size="10.6" font-weight="bold" text-anchor="middle" fill="#111" stroke="#111" stroke-width="0.2">BQ.1.1</text>
<text transform="translate(132.65 703.73) scale(0.875 1)" font-size="10.3" font-weight="bold" text-anchor="middle" fill="#111" stroke="#111" stroke-width="0.2">0.172</text>
<text transform="translate(213.95 703.73) scale(0.875 1)" font-size="10.3" font-weight="bold" text-anchor="middle" fill="#111" stroke="#111" stroke-width="0.2">0.374</text>
<text transform="translate(292.80 703.73) scale(0.875 1)" font-size="10.3" font-weight="bold" text-anchor="middle" fill="#111" stroke="#111" stroke-width="0.2">0.057</text>
<text transform="translate(364.05 703.73) scale(0.875 1)" font-size="10.3" font-weight="bold" text-anchor="middle" fill="#111" stroke="#111" stroke-width="0.2">0.546</text>
<text transform="translate(423.30 704.23) scale(0.875 1)" font-size="10.3" font-weight="bold" text-anchor="middle" fill="#111" stroke="#111" stroke-width="0.2">0.023</text>
<text transform="translate(474.25 703.73) scale(0.875 1)" font-size="10.3" font-weight="bold" text-anchor="middle" fill="#111" stroke="#111" stroke-width="0.2">&gt;10</text>
<text transform="translate(525.35 703.73) scale(0.875 1)" font-size="10.3" font-weight="bold" text-anchor="middle" fill="#111" stroke="#111" stroke-width="0.2">&gt;10</text>
<text transform="translate(61.30 719.05) scale(0.875 1)" font-size="10.6" font-weight="bold" text-anchor="middle" fill="#111" stroke="#111" stroke-width="0.2">CH.1.1</text>
<text transform="translate(132.65 718.95) scale(0.875 1)" font-size="10.3" font-weight="bold" text-anchor="middle" fill="#111" stroke="#111" stroke-width="0.2">0.174</text>
<text transform="translate(213.95 718.95) scale(0.875 1)" font-size="10.3" font-weight="bold" text-anchor="middle" fill="#111" stroke="#111" stroke-width="0.2">0.361</text>
<text transform="translate(292.80 718.95) scale(0.875 1)" font-size="10.3" font-weight="bold" text-anchor="middle" fill="#111" stroke="#111" stroke-width="0.2">0.093</text>
<text transform="translate(364.05 718.95) scale(0.875 1)" font-size="10.3" font-weight="bold" text-anchor="middle" fill="#111" stroke="#111" stroke-width="0.2">0.919</text>
<text transform="translate(423.30 719.45) scale(0.875 1)" font-size="10.3" font-weight="bold" text-anchor="middle" fill="#111" stroke="#111" stroke-width="0.2">0.039</text>
<text transform="translate(474.25 718.95) scale(0.875 1)" font-size="10.3" font-weight="bold" text-anchor="middle" fill="#111" stroke="#111" stroke-width="0.2">&gt;10</text>
<text transform="translate(525.35 718.95) scale(0.875 1)" font-size="10.3" font-weight="bold" text-anchor="middle" fill="#111" stroke="#111" stroke-width="0.2">&gt;10</text>
<text transform="translate(61.30 734.27) scale(0.875 1)" font-size="10.6" font-weight="bold" text-anchor="middle" fill="#111" stroke="#111" stroke-width="0.2">XBB.1</text>
<text transform="translate(132.65 734.17) scale(0.875 1)" font-size="10.3" font-weight="bold" text-anchor="middle" fill="#111" stroke="#111" stroke-width="0.2">0.101</text>
<text transform="translate(213.95 734.17) scale(0.875 1)" font-size="10.3" font-weight="bold" text-anchor="middle" fill="#111" stroke="#111" stroke-width="0.2">0.696</text>
<text transform="translate(292.80 734.17) scale(0.875 1)" font-size="10.3" font-weight="bold" text-anchor="middle" fill="#111" stroke="#111" stroke-width="0.2">0.065</text>
<text transform="translate(364.05 734.17) scale(0.875 1)" font-size="10.3" font-weight="bold" text-anchor="middle" fill="#111" stroke="#111" stroke-width="0.2">0.684</text>
<text transform="translate(423.30 734.67) scale(0.875 1)" font-size="10.3" font-weight="bold" text-anchor="middle" fill="#111" stroke="#111" stroke-width="0.2">0.013</text>
<text transform="translate(474.25 734.17) scale(0.875 1)" font-size="10.3" font-weight="bold" text-anchor="middle" fill="#111" stroke="#111" stroke-width="0.2">&gt;10</text>
<text transform="translate(525.35 734.17) scale(0.875 1)" font-size="10.3" font-weight="bold" text-anchor="middle" fill="#111" stroke="#111" stroke-width="0.2">&gt;10</text>
<text transform="translate(61.30 749.49) scale(0.875 1)" font-size="10.6" font-weight="bold" text-anchor="middle" fill="#111" stroke="#111" stroke-width="0.2">XBB.1.5</text>
<text transform="translate(132.65 749.39) scale(0.875 1)" font-size="10.3" font-weight="bold" text-anchor="middle" fill="#111" stroke="#111" stroke-width="0.2">0.161</text>
<text transform="translate(213.95 749.39) scale(0.875 1)" font-size="10.3" font-weight="bold" text-anchor="middle" fill="#111" stroke="#111" stroke-width="0.2">0.406</text>
<text transform="translate(292.80 749.39) scale(0.875 1)" font-size="10.3" font-weight="bold" text-anchor="middle" fill="#111" stroke="#111" stroke-width="0.2">0.070</text>
<text transform="translate(364.05 749.39) scale(0.875 1)" font-size="10.3" font-weight="bold" text-anchor="middle" fill="#111" stroke="#111" stroke-width="0.2">0.828</text>
<text transform="translate(423.30 749.89) scale(0.875 1)" font-size="10.3" font-weight="bold" text-anchor="middle" fill="#111" stroke="#111" stroke-width="0.2">0.038</text>
<text transform="translate(474.25 749.39) scale(0.875 1)" font-size="10.3" font-weight="bold" text-anchor="middle" fill="#111" stroke="#111" stroke-width="0.2">&gt;10</text>
<text transform="translate(525.35 749.39) scale(0.875 1)" font-size="10.3" font-weight="bold" text-anchor="middle" fill="#111" stroke="#111" stroke-width="0.2">&gt;10</text>
<text transform="translate(61.30 764.71) scale(0.875 1)" font-size="10.6" font-weight="bold" text-anchor="middle" fill="#111" stroke="#111" stroke-width="0.2">XBB.1.16</text>
<text transform="translate(132.65 764.61) scale(0.875 1)" font-size="10.3" font-weight="bold" text-anchor="middle" fill="#111" stroke="#111" stroke-width="0.2">0.168</text>
<text transform="translate(213.95 764.61) scale(0.875 1)" font-size="10.3" font-weight="bold" text-anchor="middle" fill="#111" stroke="#111" stroke-width="0.2">0.428</text>
<text transform="translate(292.80 764.61) scale(0.875 1)" font-size="10.3" font-weight="bold" text-anchor="middle" fill="#111" stroke="#111" stroke-width="0.2">0.071</text>
<text transform="translate(364.05 764.61) scale(0.875 1)" font-size="10.3" font-weight="bold" text-anchor="middle" fill="#111" stroke="#111" stroke-width="0.2">0.766</text>
<text transform="translate(423.30 765.11) scale(0.875 1)" font-size="10.3" font-weight="bold" text-anchor="middle" fill="#111" stroke="#111" stroke-width="0.2">0.028</text>
<text transform="translate(474.25 764.61) scale(0.875 1)" font-size="10.3" font-weight="bold" text-anchor="middle" fill="#111" stroke="#111" stroke-width="0.2">&gt;10</text>
<text transform="translate(525.35 764.61) scale(0.875 1)" font-size="10.3" font-weight="bold" text-anchor="middle" fill="#111" stroke="#111" stroke-width="0.2">&gt;10</text>
<text transform="translate(61.30 779.93) scale(0.875 1)" font-size="10.6" font-weight="bold" text-anchor="middle" fill="#111" stroke="#111" stroke-width="0.2">XBB.2.3.3</text>
<text transform="translate(132.65 779.83) scale(0.875 1)" font-size="10.3" font-weight="bold" text-anchor="middle" fill="#111" stroke="#111" stroke-width="0.2">0.123</text>
<text transform="translate(213.95 779.83) scale(0.875 1)" font-size="10.3" font-weight="bold" text-anchor="middle" fill="#111" stroke="#111" stroke-width="0.2">0.364</text>
<text transform="translate(292.80 779.83) scale(0.875 1)" font-size="10.3" font-weight="bold" text-anchor="middle" fill="#111" stroke="#111" stroke-width="0.2">0.071</text>
<text transform="translate(364.05 779.83) scale(0.875 1)" font-size="10.3" font-weight="bold" text-anchor="middle" fill="#111" stroke="#111" stroke-width="0.2">0.659</text>
<text transform="translate(423.30 780.33) scale(0.875 1)" font-size="10.3" font-weight="bold" text-anchor="middle" fill="#111" stroke="#111" stroke-width="0.2">0.053</text>
<text transform="translate(474.25 779.83) scale(0.875 1)" font-size="10.3" font-weight="bold" text-anchor="middle" fill="#111" stroke="#111" stroke-width="0.2">&gt;10</text>
<text transform="translate(525.35 779.83) scale(0.875 1)" font-size="10.3" font-weight="bold" text-anchor="middle" fill="#111" stroke="#111" stroke-width="0.2">&gt;10</text>
<text transform="translate(61.30 795.15) scale(0.875 1)" font-size="10.6" font-weight="bold" text-anchor="middle" fill="#111" stroke="#111" stroke-width="0.2">EG.5.1</text>
<text transform="translate(132.65 795.05) scale(0.875 1)" font-size="10.3" font-weight="bold" text-anchor="middle" fill="#111" stroke="#111" stroke-width="0.2">0.112</text>
<text transform="translate(213.95 795.05) scale(0.875 1)" font-size="10.3" font-weight="bold" text-anchor="middle" fill="#111" stroke="#111" stroke-width="0.2">0.244</text>
<text transform="translate(292.80 795.05) scale(0.875 1)" font-size="10.3" font-weight="bold" text-anchor="middle" fill="#111" stroke="#111" stroke-width="0.2">0.039</text>
<text transform="translate(364.05 795.05) scale(0.875 1)" font-size="10.3" font-weight="bold" text-anchor="middle" fill="#111" stroke="#111" stroke-width="0.2">0.532</text>
<text transform="translate(423.30 795.05) scale(0.875 1)" font-size="10.3" font-weight="bold" text-anchor="middle" fill="#111" stroke="#111" stroke-width="0.2">0.021</text>
<text transform="translate(474.25 795.05) scale(0.875 1)" font-size="10.3" font-weight="bold" text-anchor="middle" fill="#111" stroke="#111" stroke-width="0.2">&gt;10</text>
<text transform="translate(525.35 795.05) scale(0.875 1)" font-size="10.3" font-weight="bold" text-anchor="middle" fill="#111" stroke="#111" stroke-width="0.2">&gt;10</text>
<text transform="translate(61.30 810.37) scale(0.875 1)" font-size="10.6" font-weight="bold" text-anchor="middle" fill="#111" stroke="#111" stroke-width="0.2">HK.3</text>
<text transform="translate(132.65 810.27) scale(0.875 1)" font-size="10.3" font-weight="bold" text-anchor="middle" fill="#111" stroke="#111" stroke-width="0.2">0.006</text>
<text transform="translate(213.95 810.27) scale(0.875 1)" font-size="10.3" font-weight="bold" text-anchor="middle" fill="#111" stroke="#111" stroke-width="0.2">0.082</text>
<text transform="translate(292.80 810.27) scale(0.875 1)" font-size="10.3" font-weight="bold" text-anchor="middle" fill="#111" stroke="#111" stroke-width="0.2">0.007</text>
<text transform="translate(364.05 810.27) scale(0.875 1)" font-size="10.3" font-weight="bold" text-anchor="middle" fill="#111" stroke="#111" stroke-width="0.2">0.152</text>
<text transform="translate(423.30 810.27) scale(0.875 1)" font-size="10.3" font-weight="bold" text-anchor="middle" fill="#111" stroke="#111" stroke-width="0.2">0.024</text>
<text transform="translate(474.25 810.27) scale(0.875 1)" font-size="10.3" font-weight="bold" text-anchor="middle" fill="#111" stroke="#111" stroke-width="0.2">&gt;10</text>
<text transform="translate(525.35 810.27) scale(0.875 1)" font-size="10.3" font-weight="bold" text-anchor="middle" fill="#111" stroke="#111" stroke-width="0.2">&gt;10</text>
<text transform="translate(61.30 825.59) scale(0.875 1)" font-size="10.6" font-weight="bold" text-anchor="middle" fill="#111" stroke="#111" stroke-width="0.2">BA.2.86</text>
<text transform="translate(132.65 825.49) scale(0.875 1)" font-size="10.3" font-weight="bold" text-anchor="middle" fill="#111" stroke="#111" stroke-width="0.2">0.018</text>
<text transform="translate(213.95 825.49) scale(0.875 1)" font-size="10.3" font-weight="bold" text-anchor="middle" fill="#111" stroke="#111" stroke-width="0.2">0.151</text>
<text transform="translate(292.80 825.49) scale(0.875 1)" font-size="10.3" font-weight="bold" text-anchor="middle" fill="#111" stroke="#111" stroke-width="0.2">0.021</text>
<text transform="translate(364.05 825.49) scale(0.875 1)" font-size="10.3" font-weight="bold" text-anchor="middle" fill="#111" stroke="#111" stroke-width="0.2">0.094</text>
<text transform="translate(423.30 825.49) scale(0.875 1)" font-size="10.3" font-weight="bold" text-anchor="middle" fill="#111" stroke="#111" stroke-width="0.2">0.029</text>
<text transform="translate(474.25 825.49) scale(0.875 1)" font-size="10.3" font-weight="bold" text-anchor="middle" fill="#111" stroke="#111" stroke-width="0.2">&gt;10</text>
<text transform="translate(525.35 825.49) scale(0.875 1)" font-size="10.3" font-weight="bold" text-anchor="middle" fill="#111" stroke="#111" stroke-width="0.2">&gt;10</text>
<text transform="translate(61.30 840.81) scale(0.875 1)" font-size="10.6" font-weight="bold" text-anchor="middle" fill="#111" stroke="#111" stroke-width="0.2">SARS-CoV</text>
<text transform="translate(132.65 840.71) scale(0.875 1)" font-size="10.3" font-weight="bold" text-anchor="middle" fill="#111" stroke="#111" stroke-width="0.2">0.085</text>
<text transform="translate(213.95 840.71) scale(0.875 1)" font-size="10.3" font-weight="bold" text-anchor="middle" fill="#111" stroke="#111" stroke-width="0.2">0.003</text>
<text transform="translate(292.80 840.71) scale(0.875 1)" font-size="10.3" font-weight="bold" text-anchor="middle" fill="#111" stroke="#111" stroke-width="0.2">0.043</text>
<text transform="translate(364.05 840.71) scale(0.875 1)" font-size="10.3" font-weight="bold" text-anchor="middle" fill="#111" stroke="#111" stroke-width="0.2">0.458</text>
<text transform="translate(423.30 840.71) scale(0.875 1)" font-size="10.3" font-weight="bold" text-anchor="middle" fill="#111" stroke="#111" stroke-width="0.2">0.006</text>
<text transform="translate(474.25 840.71) scale(0.875 1)" font-size="10.3" font-weight="bold" text-anchor="middle" fill="#111" stroke="#111" stroke-width="0.2">&gt;10</text>
<text transform="translate(525.35 840.71) scale(0.875 1)" font-size="10.3" font-weight="bold" text-anchor="middle" fill="#111" stroke="#111" stroke-width="0.2">&gt;10</text>
<text transform="translate(61.30 856.03) scale(0.875 1)" font-size="10.6" font-weight="bold" text-anchor="middle" fill="#111" stroke="#111" stroke-width="0.2">GD-Pangolin</text>
<text transform="translate(132.65 855.93) scale(0.875 1)" font-size="10.3" font-weight="bold" text-anchor="middle" fill="#111" stroke="#111" stroke-width="0.2">0.026</text>
<text transform="translate(213.95 855.93) scale(0.875 1)" font-size="10.3" font-weight="bold" text-anchor="middle" fill="#111" stroke="#111" stroke-width="0.2">0.768</text>
<text transform="translate(292.80 855.93) scale(0.875 1)" font-size="10.3" font-weight="bold" text-anchor="middle" fill="#111" stroke="#111" stroke-width="0.2">0.050</text>
<text transform="translate(364.05 855.93) scale(0.875 1)" font-size="10.3" font-weight="bold" text-anchor="middle" fill="#111" stroke="#111" stroke-width="0.2">0.498</text>
<text transform="translate(423.30 855.93) scale(0.875 1)" font-size="10.3" font-weight="bold" text-anchor="middle" fill="#111" stroke="#111" stroke-width="0.2">0.018</text>
<text transform="translate(474.25 855.93) scale(0.875 1)" font-size="10.3" font-weight="bold" text-anchor="middle" fill="#111" stroke="#111" stroke-width="0.2">0.004</text>
<text transform="translate(525.35 855.93) scale(0.875 1)" font-size="10.3" font-weight="bold" text-anchor="middle" fill="#111" stroke="#111" stroke-width="0.2">&gt;10</text>
<text transform="translate(61.30 871.25) scale(0.875 1)" font-size="10.6" font-weight="bold" text-anchor="middle" fill="#111" stroke="#111" stroke-width="0.2">WIV1</text>
<text transform="translate(132.65 871.15) scale(0.875 1)" font-size="10.3" font-weight="bold" text-anchor="middle" fill="#111" stroke="#111" stroke-width="0.2">0.184</text>
<text transform="translate(213.95 871.15) scale(0.875 1)" font-size="10.3" font-weight="bold" text-anchor="middle" fill="#111" stroke="#111" stroke-width="0.2">0.150</text>
<text transform="translate(292.80 871.15) scale(0.875 1)" font-size="10.3" font-weight="bold" text-anchor="middle" fill="#111" stroke="#111" stroke-width="0.2">0.099</text>
<text transform="translate(364.05 871.15) scale(0.875 1)" font-size="10.3" font-weight="bold" text-anchor="middle" fill="#111" stroke="#111" stroke-width="0.2">1.560</text>
<text transform="translate(423.30 871.15) scale(0.875 1)" font-size="10.3" font-weight="bold" text-anchor="middle" fill="#111" stroke="#111" stroke-width="0.2">0.016</text>
<text transform="translate(474.25 871.15) scale(0.875 1)" font-size="10.3" font-weight="bold" text-anchor="middle" fill="#111" stroke="#111" stroke-width="0.2">&gt;10</text>
<text transform="translate(525.35 871.15) scale(0.875 1)" font-size="10.3" font-weight="bold" text-anchor="middle" fill="#111" stroke="#111" stroke-width="0.2">&gt;10</text>
<text transform="translate(61.30 886.47) scale(0.875 1)" font-size="10.6" font-weight="bold" text-anchor="middle" fill="#111" stroke="#111" stroke-width="0.2">MERS-CoV</text>
<text transform="translate(132.65 886.37) scale(0.875 1)" font-size="10.3" font-weight="bold" text-anchor="middle" fill="#111" stroke="#111" stroke-width="0.2">&gt;10</text>
<text transform="translate(213.95 886.37) scale(0.875 1)" font-size="10.3" font-weight="bold" text-anchor="middle" fill="#111" stroke="#111" stroke-width="0.2">&gt;10</text>
<text transform="translate(292.80 886.37) scale(0.875 1)" font-size="10.3" font-weight="bold" text-anchor="middle" fill="#111" stroke="#111" stroke-width="0.2">0.001</text>
<text transform="translate(364.05 886.37) scale(0.875 1)" font-size="10.3" font-weight="bold" text-anchor="middle" fill="#111" stroke="#111" stroke-width="0.2">&lt;0.001</text>
<text transform="translate(423.30 886.37) scale(0.875 1)" font-size="10.3" font-weight="bold" text-anchor="middle" fill="#111" stroke="#111" stroke-width="0.2">&gt;10</text>
<text transform="translate(474.25 886.37) scale(0.875 1)" font-size="10.3" font-weight="bold" text-anchor="middle" fill="#111" stroke="#111" stroke-width="0.2">&gt;10</text>
<text transform="translate(525.35 886.37) scale(0.875 1)" font-size="10.3" font-weight="bold" text-anchor="middle" fill="#111" stroke="#111" stroke-width="0.2">0.002</text>
<rect x="143.60" y="904.5" width="58.20" height="16.5" fill="#E2813F" stroke="#444" stroke-width="1"/>
<text transform="translate(172.70 916.80) scale(0.98 1)" font-size="10.8" font-weight="bold" text-anchor="middle" fill="#111">&lt;0.001</text>
<rect x="201.80" y="904.5" width="58.50" height="16.5" fill="#F6C245" stroke="#444" stroke-width="1"/>
<text transform="translate(231.05 916.80) scale(0.98 1)" font-size="10.8" font-weight="bold" text-anchor="middle" fill="#111">0.001~0.01</text>
<rect x="260.30" y="904.5" width="58.50" height="16.5" fill="#F9D77A" stroke="#444" stroke-width="1"/>
<text transform="translate(289.55 916.80) scale(0.98 1)" font-size="10.8" font-weight="bold" text-anchor="middle" fill="#111">0.01~0.1</text>
<rect x="318.80" y="904.5" width="58.20" height="16.5" fill="#FBE3A3" stroke="#444" stroke-width="1"/>
<text transform="translate(347.90 916.80) scale(0.98 1)" font-size="10.8" font-weight="bold" text-anchor="middle" fill="#111">0.1~0.2</text>
<rect x="377.00" y="904.5" width="57.90" height="16.5" fill="#FDF1D2" stroke="#444" stroke-width="1"/>
<text transform="translate(405.95 916.80) scale(0.98 1)" font-size="10.8" font-weight="bold" text-anchor="middle" fill="#111">0.2~1</text>
<rect x="434.90" y="904.5" width="58.60" height="16.5" fill="#FFFFFF" stroke="#444" stroke-width="1"/>
<text transform="translate(464.20 916.80) scale(0.98 1)" font-size="10.8" font-weight="bold" text-anchor="middle" fill="#111">1~10</text>
<rect x="493.50" y="904.5" width="58.30" height="16.5" fill="#7F7F7F" stroke="#444" stroke-width="1"/>
<text transform="translate(522.65 916.80) scale(0.98 1)" font-size="10.8" font-weight="bold" text-anchor="middle" fill="#111">&gt;10</text>
<text x="688.40" y="489.80" font-size="12.6" font-weight="bold" text-anchor="middle" fill="#111" >H11B11_m336</text>
<text x="687.90" y="512.20" font-size="11.7" font-weight="normal" text-anchor="middle" fill="#111" >p=0.0312</text>
<line x1="656.00" y1="518.30" x2="719.80" y2="518.30" stroke="#111" stroke-width="2" />
<path d="M608.8 513.8 H615.3 V669.9 H762.4" stroke="#111" stroke-width="2" fill="none"/>
<line x1="608.80" y1="591.85" x2="615.30" y2="591.85" stroke="#111" stroke-width="2" />
<text transform="translate(602.00 518.40) scale(0.95 1)" font-size="12.3" font-weight="bold" text-anchor="end" fill="#111">10</text>
<text x="602.9" y="514.40" font-size="7.8" font-weight="normal" fill="#111" stroke="#111" stroke-width="0.2">3</text>
<text transform="translate(602.00 596.45) scale(0.95 1)" font-size="12.3" font-weight="bold" text-anchor="end" fill="#111">10</text>
<text x="602.9" y="592.45" font-size="7.8" font-weight="normal" fill="#111" stroke="#111" stroke-width="0.2">2</text>
<text transform="translate(602.00 674.50) scale(0.95 1)" font-size="12.3" font-weight="bold" text-anchor="end" fill="#111">10</text>
<text x="602.9" y="670.50" font-size="7.8" font-weight="normal" fill="#111" stroke="#111" stroke-width="0.2">1</text>
<line x1="657.00" y1="669.90" x2="657.00" y2="674.70" stroke="#111" stroke-width="2" />
<line x1="720.00" y1="669.90" x2="720.00" y2="674.70" stroke="#111" stroke-width="2" />
<text transform="translate(575.2 592) rotate(-90)" font-size="12.2" font-weight="bold" text-anchor="middle" fill="#111">IC<tspan font-size="8.2" dy="2.8">50</tspan><tspan dy="-2.8"> (ng/ml)</tspan></text>
<text transform="translate(661.2 687.6) rotate(-45)" font-size="11.9" font-weight="bold" text-anchor="end" fill="#111">IgG-scFV</text>
<text transform="translate(724.2 687.6) rotate(-45)" font-size="11.9" font-weight="bold" text-anchor="end" fill="#111">Knob-into-Hole</text>
<line x1="657.00" y1="597.00" x2="720.00" y2="548.40" stroke="#111" stroke-width="0.9" />
<line x1="657.00" y1="599.70" x2="720.00" y2="542.70" stroke="#111" stroke-width="0.9" />
<line x1="657.00" y1="602.40" x2="720.00" y2="560.50" stroke="#111" stroke-width="0.9" />
<line x1="657.00" y1="604.50" x2="720.00" y2="570.00" stroke="#111" stroke-width="0.9" />
<line x1="657.00" y1="614.20" x2="720.00" y2="572.40" stroke="#111" stroke-width="0.9" />
<line x1="657.00" y1="620.90" x2="720.00" y2="563.30" stroke="#111" stroke-width="0.9" />
<circle cx="657" cy="597" r="2.6" fill="#111"/>
<circle cx="657" cy="599.7" r="2.6" fill="#111"/>
<circle cx="657" cy="602.4" r="2.6" fill="#111"/>
<circle cx="657" cy="604.5" r="2.6" fill="#111"/>
<circle cx="657" cy="614.2" r="2.6" fill="#111"/>
<circle cx="657" cy="620.9" r="2.6" fill="#111"/>
<circle cx="720" cy="548.4" r="2.6" fill="#111"/>
<circle cx="720" cy="542.7" r="2.6" fill="#111"/>
<circle cx="720" cy="560.5" r="2.6" fill="#111"/>
<circle cx="720" cy="570" r="2.6" fill="#111"/>
<circle cx="720" cy="572.4" r="2.6" fill="#111"/>
<circle cx="720" cy="563.3" r="2.6" fill="#111"/>
</svg></body></html>
